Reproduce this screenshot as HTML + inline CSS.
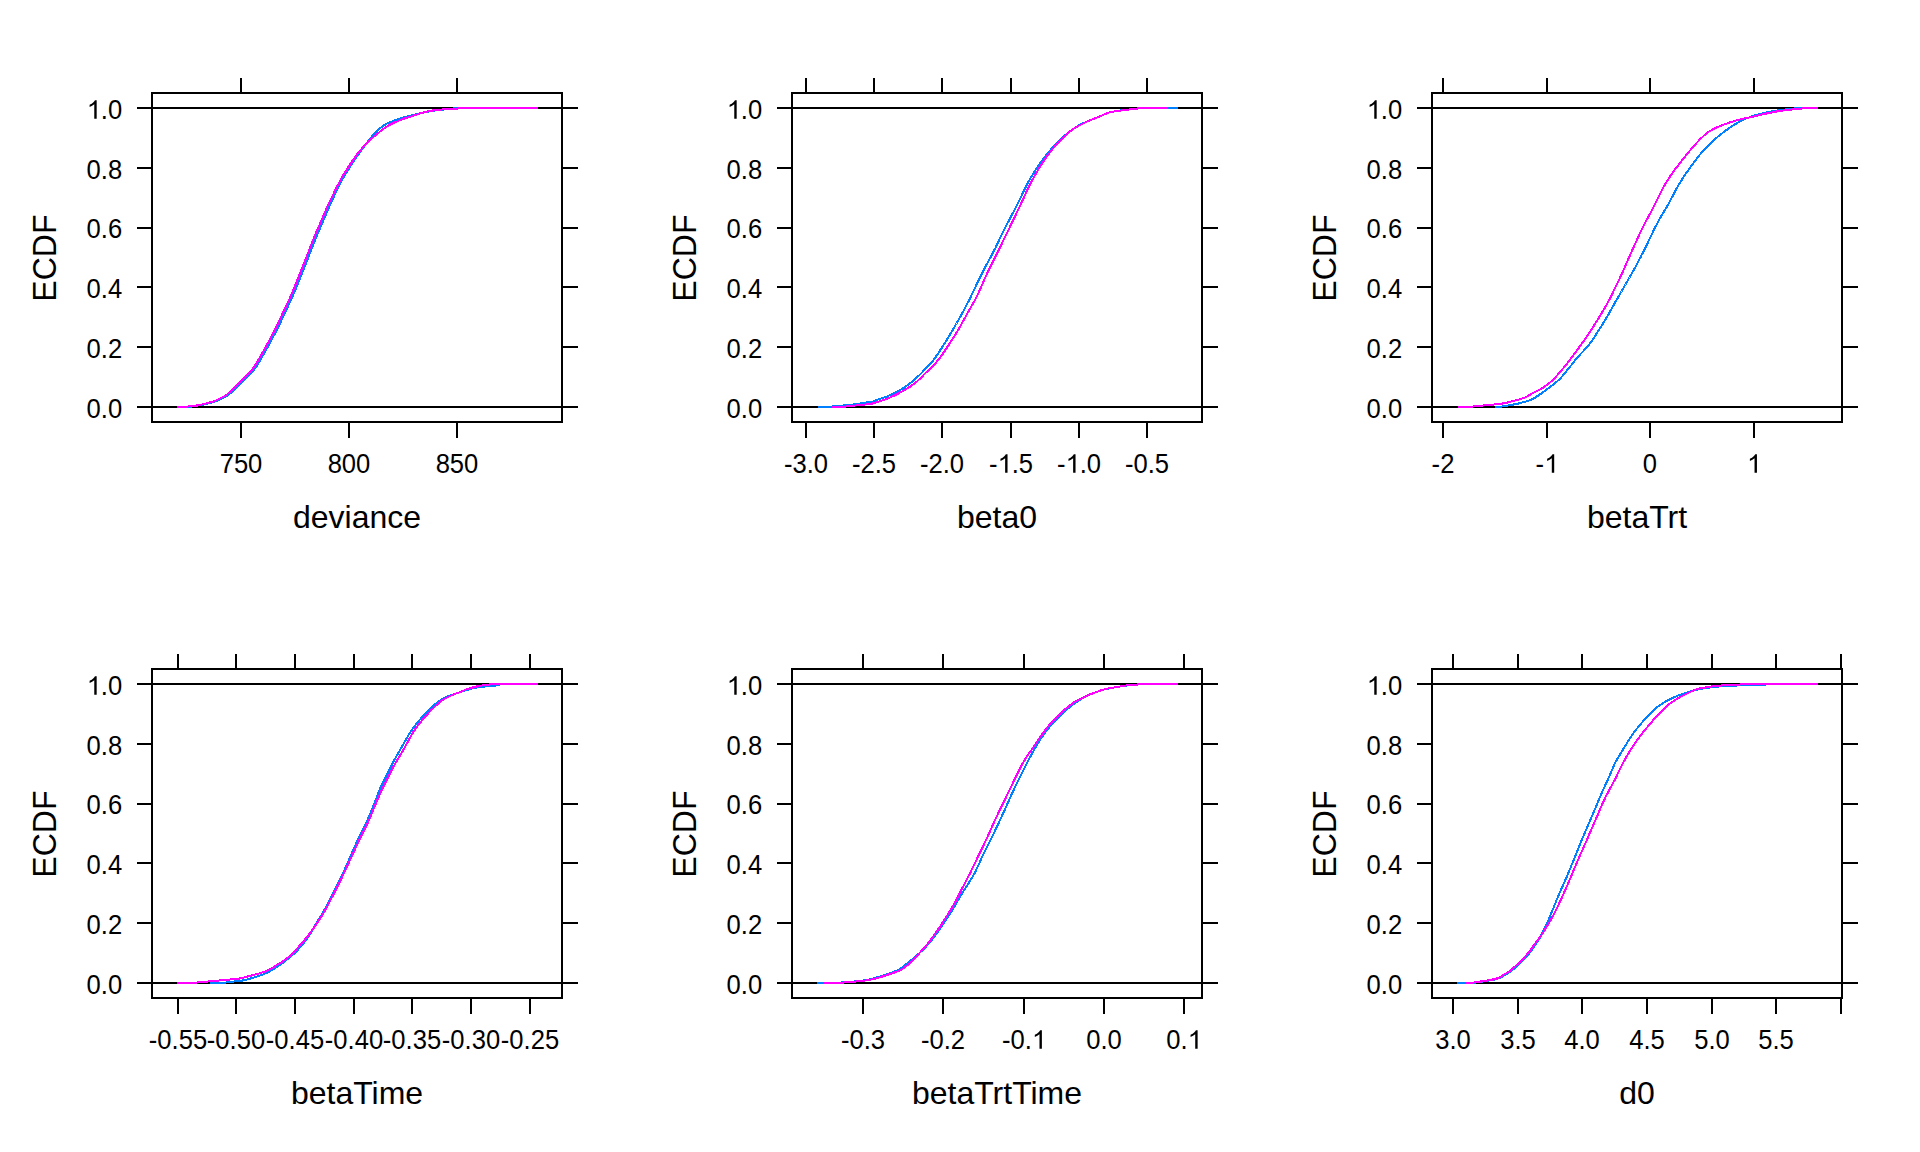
<!DOCTYPE html>
<html><head><meta charset="utf-8"><title>ECDF</title>
<style>
html,body{margin:0;padding:0;background:#fff;}
svg{display:block;}
text{font-family:"Liberation Sans",sans-serif;fill:#000;}
.t{font-size:25.6px;font-kerning:none;}
.l{font-size:32px;}
</style></head><body>
<svg width="1920" height="1152" viewBox="0 0 1920 1152">
<rect x="0" y="0" width="1920" height="1152" fill="#fff"/>
<g>
<path d="M152,93H562V422H152ZM137,108H152M562,108H578M137,168H152M562,168H578M137,228H152M562,228H578M137,287H152M562,287H578M137,347H152M562,347H578M137,407H152M562,407H578M241,422V438M241,93V78M349,422V438M349,93V78M457,422V438M457,93V78M152,108H562M152,407H562" fill="none" stroke="#000" stroke-width="2" shape-rendering="crispEdges"/>
<path d="M177.0,407.0 L178.0,407.0 L179.0,407.0 L180.0,407.0 L181.0,407.0 L182.0,407.0 L183.0,407.0 L184.0,407.0 L185.0,407.0 L186.0,407.0 L187.0,407.0 L188.0,407.0 L189.0,406.9 L190.0,406.8 L191.0,406.6 L192.0,406.4 L193.0,406.2 L194.0,406.0 L195.0,405.9 L196.0,405.7 L197.0,405.6 L198.0,405.5 L199.0,405.4 L200.0,405.3 L201.0,405.2 L202.0,405.0 L203.0,404.8 L204.0,404.5 L205.0,404.3 L206.0,404.0 L207.0,403.8 L208.0,403.5 L209.0,403.3 L210.0,403.0 L211.0,402.7 L212.0,402.4 L213.0,402.2 L214.0,401.8 L215.0,401.5 L216.0,401.2 L217.0,400.8 L218.0,400.4 L219.0,399.9 L220.0,399.5 L221.0,399.0 L222.0,398.5 L223.0,398.0 L224.0,397.5 L225.0,397.0 L226.0,396.5 L227.0,396.0 L228.0,395.3 L229.0,394.4 L230.0,393.6 L231.0,392.7 L232.0,391.7 L233.0,390.7 L234.0,389.7 L235.0,388.7 L236.0,387.7 L237.0,386.7 L238.0,385.7 L239.0,384.8 L240.0,383.8 L241.0,382.7 L242.0,381.7 L243.0,380.7 L244.0,379.8 L245.0,378.8 L246.0,377.8 L247.0,376.8 L248.0,375.9 L249.0,374.9 L250.0,373.9 L251.0,372.9 L252.0,371.9 L253.0,370.8 L254.0,369.6 L255.0,368.4 L256.0,367.0 L257.0,365.5 L258.0,364.0 L259.0,362.4 L260.0,360.6 L261.0,358.8 L262.0,357.0 L263.0,355.3 L264.0,353.5 L265.0,351.7 L266.0,349.9 L267.0,348.1 L268.0,346.4 L269.0,344.5 L270.0,342.7 L271.0,340.9 L272.0,339.0 L273.0,337.2 L274.0,335.3 L275.0,333.3 L276.0,331.4 L277.0,329.4 L278.0,327.4 L279.0,325.4 L280.0,323.4 L281.0,321.2 L282.0,319.1 L283.0,316.9 L284.0,314.7 L285.0,312.6 L286.0,310.5 L287.0,308.4 L288.0,306.3 L289.0,304.2 L290.0,302.1 L291.0,300.0 L292.0,297.8 L293.0,295.5 L294.0,293.1 L295.0,290.7 L296.0,288.2 L297.0,285.7 L298.0,283.1 L299.0,280.6 L300.0,278.1 L301.0,275.6 L302.0,273.1 L303.0,270.6 L304.0,268.1 L305.0,265.6 L306.0,263.1 L307.0,260.6 L308.0,258.1 L309.0,255.6 L310.0,253.0 L311.0,250.5 L312.0,247.8 L313.0,245.3 L314.0,242.6 L315.0,240.1 L316.0,237.6 L317.0,235.1 L318.0,232.8 L319.0,230.5 L320.0,228.2 L321.0,225.9 L322.0,223.6 L323.0,221.3 L324.0,219.0 L325.0,216.6 L326.0,214.3 L327.0,212.0 L328.0,209.7 L329.0,207.4 L330.0,205.1 L331.0,202.9 L332.0,200.7 L333.0,198.5 L334.0,196.3 L335.0,194.1 L336.0,192.0 L337.0,189.8 L338.0,187.8 L339.0,185.8 L340.0,183.8 L341.0,182.0 L342.0,180.1 L343.0,178.3 L344.0,176.6 L345.0,174.9 L346.0,173.3 L347.0,171.7 L348.0,170.1 L349.0,168.5 L350.0,166.9 L351.0,165.3 L352.0,163.8 L353.0,162.2 L354.0,160.7 L355.0,159.3 L356.0,157.8 L357.0,156.3 L358.0,154.9 L359.0,153.5 L360.0,152.1 L361.0,150.7 L362.0,149.4 L363.0,148.0 L364.0,146.7 L365.0,145.4 L366.0,144.0 L367.0,142.7 L368.0,141.4 L369.0,140.1 L370.0,138.8 L371.0,137.6 L372.0,136.4 L373.0,135.2 L374.0,134.1 L375.0,132.9 L376.0,131.9 L377.0,130.9 L378.0,129.9 L379.0,129.1 L380.0,128.2 L381.0,127.4 L382.0,126.7 L383.0,126.0 L384.0,125.3 L385.0,124.7 L386.0,124.2 L387.0,123.6 L388.0,123.1 L389.0,122.7 L390.0,122.2 L391.0,121.8 L392.0,121.4 L393.0,121.0 L394.0,120.6 L395.0,120.2 L396.0,119.8 L397.0,119.5 L398.0,119.2 L399.0,118.8 L400.0,118.5 L401.0,118.2 L402.0,117.9 L403.0,117.6 L404.0,117.3 L405.0,117.0 L406.0,116.8 L407.0,116.5 L408.0,116.2 L409.0,116.0 L410.0,115.8 L411.0,115.5 L412.0,115.3 L413.0,115.0 L414.0,114.8 L415.0,114.5 L416.0,114.3 L417.0,114.0 L418.0,113.8 L419.0,113.5 L420.0,113.3 L421.0,113.0 L422.0,112.8 L423.0,112.6 L424.0,112.3 L425.0,112.1 L426.0,112.0 L427.0,111.8 L428.0,111.6 L429.0,111.4 L430.0,111.2 L431.0,111.1 L432.0,110.9 L433.0,110.8 L434.0,110.6 L435.0,110.5 L436.0,110.3 L437.0,110.2 L438.0,110.1 L439.0,110.0 L440.0,109.9 L441.0,109.8 L442.0,109.7 L443.0,109.6 L444.0,109.5 L445.0,109.4 L446.0,109.3 L447.0,109.2 L448.0,109.1 L449.0,109.0 L450.0,108.9 L451.0,108.8 L452.0,108.7 L453.0,108.6 L454.0,108.4 L455.0,108.3 L456.0,108.2 L457.0,108.1 L457.5,108.0" fill="none" stroke="#0080ff" stroke-width="2" stroke-linejoin="round" shape-rendering="crispEdges"/>
<path d="M177.0,407.0 L178.0,407.0 L179.0,407.0 L180.0,407.0 L181.0,407.0 L182.0,407.0 L183.0,407.0 L184.0,407.0 L185.0,406.9 L186.0,406.8 L187.0,406.7 L188.0,406.5 L189.0,406.4 L190.0,406.3 L191.0,406.1 L192.0,406.0 L193.0,405.9 L194.0,405.8 L195.0,405.7 L196.0,405.6 L197.0,405.4 L198.0,405.3 L199.0,405.2 L200.0,405.0 L201.0,404.8 L202.0,404.5 L203.0,404.3 L204.0,404.0 L205.0,403.8 L206.0,403.5 L207.0,403.3 L208.0,403.0 L209.0,402.7 L210.0,402.4 L211.0,402.2 L212.0,401.8 L213.0,401.5 L214.0,401.2 L215.0,400.8 L216.0,400.4 L217.0,399.9 L218.0,399.5 L219.0,399.0 L220.0,398.5 L221.0,398.0 L222.0,397.5 L223.0,397.0 L224.0,396.5 L225.0,396.0 L226.0,395.3 L227.0,394.4 L228.0,393.6 L229.0,392.7 L230.0,391.7 L231.0,390.7 L232.0,389.7 L233.0,388.7 L234.0,387.7 L235.0,386.7 L236.0,385.7 L237.0,384.8 L238.0,383.8 L239.0,382.7 L240.0,381.7 L241.0,380.7 L242.0,379.8 L243.0,378.8 L244.0,377.8 L245.0,376.8 L246.0,375.9 L247.0,374.9 L248.0,373.9 L249.0,372.9 L250.0,371.9 L251.0,370.8 L252.0,369.6 L253.0,368.4 L254.0,367.0 L255.0,365.5 L256.0,364.0 L257.0,362.4 L258.0,360.6 L259.0,358.8 L260.0,357.0 L261.0,355.3 L262.0,353.5 L263.0,351.7 L264.0,349.9 L265.0,348.1 L266.0,346.4 L267.0,344.5 L268.0,342.7 L269.0,340.9 L270.0,339.0 L271.0,337.2 L272.0,335.3 L273.0,333.3 L274.0,331.4 L275.0,329.4 L276.0,327.4 L277.0,325.4 L278.0,323.4 L279.0,321.2 L280.0,319.1 L281.0,316.9 L282.0,314.7 L283.0,312.6 L284.0,310.5 L285.0,308.4 L286.0,306.3 L287.0,304.2 L288.0,302.1 L289.0,300.0 L290.0,297.8 L291.0,295.5 L292.0,293.1 L293.0,290.7 L294.0,288.2 L295.0,285.7 L296.0,283.1 L297.0,280.6 L298.0,278.1 L299.0,275.6 L300.0,273.1 L301.0,270.6 L302.0,268.1 L303.0,265.6 L304.0,263.1 L305.0,260.6 L306.0,258.1 L307.0,255.6 L308.0,253.0 L309.0,250.5 L310.0,247.8 L311.0,245.3 L312.0,242.6 L313.0,240.1 L314.0,237.6 L315.0,235.1 L316.0,232.8 L317.0,230.5 L318.0,228.2 L319.0,225.9 L320.0,223.6 L321.0,221.3 L322.0,219.0 L323.0,216.6 L324.0,214.3 L325.0,212.0 L326.0,209.7 L327.0,207.4 L328.0,205.2 L329.0,203.1 L330.0,201.0 L331.0,198.9 L332.0,196.9 L333.0,194.8 L334.0,192.8 L335.0,190.7 L336.0,188.7 L337.0,186.7 L338.0,184.8 L339.0,182.8 L340.0,180.9 L341.0,179.0 L342.0,177.3 L343.0,175.6 L344.0,173.9 L345.0,172.3 L346.0,170.7 L347.0,169.1 L348.0,167.6 L349.0,166.0 L350.0,164.5 L351.0,163.0 L352.0,161.5 L353.0,160.1 L354.0,158.6 L355.0,157.2 L356.0,155.8 L357.0,154.4 L358.0,153.1 L359.0,151.9 L360.0,150.7 L361.0,149.5 L362.0,148.3 L363.0,147.2 L364.0,146.1 L365.0,145.0 L366.0,144.0 L367.0,143.0 L368.0,142.0 L369.0,141.1 L370.0,140.1 L371.0,139.2 L372.0,138.3 L373.0,137.4 L374.0,136.6 L375.0,135.7 L376.0,134.8 L377.0,134.0 L378.0,133.2 L379.0,132.4 L380.0,131.6 L381.0,130.8 L382.0,130.1 L383.0,129.3 L384.0,128.6 L385.0,127.9 L386.0,127.2 L387.0,126.5 L388.0,125.9 L389.0,125.3 L390.0,124.7 L391.0,124.2 L392.0,123.7 L393.0,123.2 L394.0,122.7 L395.0,122.3 L396.0,121.8 L397.0,121.4 L398.0,121.0 L399.0,120.6 L400.0,120.2 L401.0,119.8 L402.0,119.4 L403.0,119.1 L404.0,118.7 L405.0,118.4 L406.0,118.1 L407.0,117.7 L408.0,117.4 L409.0,117.1 L410.0,116.8 L411.0,116.4 L412.0,116.1 L413.0,115.8 L414.0,115.4 L415.0,115.1 L416.0,114.8 L417.0,114.4 L418.0,114.1 L419.0,113.8 L420.0,113.5 L421.0,113.2 L422.0,112.9 L423.0,112.6 L424.0,112.4 L425.0,112.1 L426.0,111.8 L427.0,111.6 L428.0,111.4 L429.0,111.1 L430.0,110.9 L431.0,110.7 L432.0,110.6 L433.0,110.4 L434.0,110.3 L435.0,110.1 L436.0,110.0 L437.0,109.9 L438.0,109.8 L439.0,109.7 L440.0,109.6 L441.0,109.5 L442.0,109.5 L443.0,109.4 L444.0,109.4 L445.0,109.3 L446.0,109.3 L447.0,109.3 L448.0,109.3 L449.0,109.3 L450.0,109.2 L451.0,109.2 L452.0,109.2 L453.0,109.1 L454.0,109.1 L455.0,109.0 L456.0,108.9 L457.0,108.8 L458.0,108.0 L459.0,108.0 L460.0,108.0 L461.0,108.0 L462.0,108.0 L463.0,108.0 L464.0,108.0 L465.0,108.0 L466.0,108.0 L467.0,108.0 L468.0,108.0 L469.0,108.0 L470.0,108.0 L471.0,108.0 L472.0,108.0 L473.0,108.0 L474.0,108.0 L475.0,108.0 L476.0,108.0 L477.0,108.0 L478.0,108.0 L479.0,108.0 L480.0,108.0 L481.0,108.0 L482.0,108.0 L483.0,108.0 L484.0,108.0 L485.0,108.0 L486.0,108.0 L487.0,108.0 L488.0,108.0 L489.0,108.0 L490.0,108.0 L491.0,108.0 L492.0,108.0 L493.0,108.0 L494.0,108.0 L495.0,108.0 L496.0,108.0 L497.0,108.0 L498.0,108.0 L499.0,108.0 L500.0,108.0 L501.0,108.0 L502.0,108.0 L503.0,108.0 L504.0,108.0 L505.0,108.0 L506.0,108.0 L507.0,108.0 L508.0,108.0 L509.0,108.0 L510.0,108.0 L511.0,108.0 L512.0,108.0 L513.0,108.0 L514.0,108.0 L515.0,108.0 L516.0,108.0 L517.0,108.0 L518.0,108.0 L519.0,108.0 L520.0,108.0 L521.0,108.0 L522.0,108.0 L523.0,108.0 L524.0,108.0 L525.0,108.0 L526.0,108.0 L527.0,108.0 L528.0,108.0 L529.0,108.0 L530.0,108.0 L531.0,108.0 L532.0,108.0 L533.0,108.0 L534.0,108.0 L535.0,108.0 L536.0,108.0 L537.0,108.0 L538.0,108.0" fill="none" stroke="#ff00ff" stroke-width="2" stroke-linejoin="round" shape-rendering="crispEdges"/>
<text class="t" transform="translate(0,118.70) scale(1,1.05)" x="86.61 100.85 107.96" y="0">&#x2007;.0</text>
<path d="M805,0L613,0L613,1102Q450,985 240,894L240,1061Q420,1140 545,1260Q625,1340 670,1409L805,1409Z" transform="translate(86.61,118.70) scale(0.012500,-0.013125)" fill="#000"/>
<text class="t" transform="translate(0,178.50) scale(1,1.05)" x="86.61 100.85 107.96" y="0">0.8</text>
<text class="t" transform="translate(0,238.30) scale(1,1.05)" x="86.61 100.85 107.96" y="0">0.6</text>
<text class="t" transform="translate(0,298.10) scale(1,1.05)" x="86.61 100.85 107.96" y="0">0.4</text>
<text class="t" transform="translate(0,357.90) scale(1,1.05)" x="86.61 100.85 107.96" y="0">0.2</text>
<text class="t" transform="translate(0,417.70) scale(1,1.05)" x="86.61 100.85 107.96" y="0">0.0</text>
<text class="t" transform="translate(0,472.80) scale(1,1.05)" x="219.64 233.88 248.12" y="0">750</text>
<text class="t" transform="translate(0,472.80) scale(1,1.05)" x="327.64 341.88 356.12" y="0">800</text>
<text class="t" transform="translate(0,472.80) scale(1,1.05)" x="435.64 449.88 464.12" y="0">850</text>
<text class="l" x="357.0" y="527.8" text-anchor="middle">deviance</text>
<text class="l" transform="translate(56,258.1) rotate(-90) scale(1,1.04)" x="0" y="0" text-anchor="middle">ECDF</text>
</g>
<g>
<path d="M792,93H1202V422H792ZM777,108H792M1202,108H1218M777,168H792M1202,168H1218M777,228H792M1202,228H1218M777,287H792M1202,287H1218M777,347H792M1202,347H1218M777,407H792M1202,407H1218M806,422V438M806,93V78M874,422V438M874,93V78M942,422V438M942,93V78M1011,422V438M1011,93V78M1079,422V438M1079,93V78M1147,422V438M1147,93V78M792,108H1202M792,407H1202" fill="none" stroke="#000" stroke-width="2" shape-rendering="crispEdges"/>
<path d="M817.5,407.0 L818.5,407.0 L819.5,407.0 L820.5,407.0 L821.5,407.0 L822.5,407.0 L823.5,407.0 L824.5,407.0 L825.5,407.0 L826.5,406.9 L827.5,406.9 L828.5,406.8 L829.5,406.7 L830.5,406.7 L831.5,406.6 L832.5,406.5 L833.5,406.4 L834.5,406.3 L835.5,406.2 L836.5,406.1 L837.5,406.0 L838.5,405.9 L839.5,405.8 L840.5,405.8 L841.5,405.7 L842.5,405.6 L843.5,405.5 L844.5,405.4 L845.5,405.3 L846.5,405.2 L847.5,405.1 L848.5,405.0 L849.5,404.9 L850.5,404.8 L851.5,404.7 L852.5,404.6 L853.5,404.5 L854.5,404.4 L855.5,404.2 L856.5,404.1 L857.5,404.0 L858.5,403.8 L859.5,403.7 L860.5,403.5 L861.5,403.3 L862.5,403.2 L863.5,403.0 L864.5,402.8 L865.5,402.6 L866.5,402.3 L867.5,402.1 L868.5,402.0 L869.5,401.9 L870.5,401.9 L871.5,401.8 L872.5,401.7 L873.5,401.4 L874.5,400.9 L875.5,400.4 L876.5,400.0 L877.5,399.7 L878.5,399.3 L879.5,399.0 L880.5,398.7 L881.5,398.4 L882.5,398.1 L883.5,397.7 L884.5,397.4 L885.5,397.0 L886.5,396.6 L887.5,396.2 L888.5,395.8 L889.5,395.4 L890.5,395.0 L891.5,394.5 L892.5,394.0 L893.5,393.6 L894.5,393.1 L895.5,392.6 L896.5,392.0 L897.5,391.5 L898.5,391.0 L899.5,390.4 L900.5,389.8 L901.5,389.2 L902.5,388.6 L903.5,388.0 L904.5,387.3 L905.5,386.6 L906.5,385.9 L907.5,385.2 L908.5,384.5 L909.5,383.7 L910.5,382.9 L911.5,382.1 L912.5,381.2 L913.5,380.4 L914.5,379.5 L915.5,378.7 L916.5,377.8 L917.5,376.9 L918.5,375.9 L919.5,375.0 L920.5,374.0 L921.5,373.0 L922.5,372.0 L923.5,370.9 L924.5,369.8 L925.5,368.8 L926.5,367.7 L927.5,366.7 L928.5,365.7 L929.5,364.6 L930.5,363.5 L931.5,362.4 L932.5,361.2 L933.5,360.0 L934.5,358.7 L935.5,357.3 L936.5,355.8 L937.5,354.3 L938.5,352.9 L939.5,351.4 L940.5,349.8 L941.5,348.3 L942.5,346.7 L943.5,345.1 L944.5,343.6 L945.5,341.9 L946.5,340.3 L947.5,338.7 L948.5,337.0 L949.5,335.4 L950.5,333.7 L951.5,332.0 L952.5,330.3 L953.5,328.6 L954.5,326.9 L955.5,325.2 L956.5,323.5 L957.5,321.7 L958.5,320.0 L959.5,318.2 L960.5,316.4 L961.5,314.5 L962.5,312.7 L963.5,310.8 L964.5,309.0 L965.5,307.1 L966.5,305.2 L967.5,303.2 L968.5,301.3 L969.5,299.3 L970.5,297.3 L971.5,295.3 L972.5,293.2 L973.5,291.1 L974.5,289.0 L975.5,286.8 L976.5,284.7 L977.5,282.5 L978.5,280.4 L979.5,278.4 L980.5,276.3 L981.5,274.4 L982.5,272.4 L983.5,270.4 L984.5,268.5 L985.5,266.6 L986.5,264.7 L987.5,262.9 L988.5,261.0 L989.5,259.2 L990.5,257.3 L991.5,255.5 L992.5,253.6 L993.5,251.7 L994.5,249.7 L995.5,247.8 L996.5,245.7 L997.5,243.6 L998.5,241.4 L999.5,239.2 L1000.5,237.1 L1001.5,235.0 L1002.5,232.9 L1003.5,230.9 L1004.5,228.9 L1005.5,227.0 L1006.5,225.1 L1007.5,223.2 L1008.5,221.3 L1009.5,219.4 L1010.5,217.5 L1011.5,215.6 L1012.5,213.7 L1013.5,211.8 L1014.5,209.9 L1015.5,208.0 L1016.5,206.1 L1017.5,204.1 L1018.5,202.1 L1019.5,200.0 L1020.5,198.0 L1021.5,195.8 L1022.5,193.7 L1023.5,191.5 L1024.5,189.3 L1025.5,187.3 L1026.5,185.3 L1027.5,183.4 L1028.5,181.6 L1029.5,179.9 L1030.5,178.2 L1031.5,176.5 L1032.5,174.9 L1033.5,173.3 L1034.5,171.8 L1035.5,170.2 L1036.5,168.7 L1037.5,167.2 L1038.5,165.7 L1039.5,164.2 L1040.5,162.8 L1041.5,161.4 L1042.5,160.0 L1043.5,158.6 L1044.5,157.3 L1045.5,156.0 L1046.5,154.7 L1047.5,153.5 L1048.5,152.3 L1049.5,151.1 L1050.5,150.0 L1051.5,148.8 L1052.5,147.7 L1053.5,146.6 L1054.5,145.6 L1055.5,144.5 L1056.5,143.5 L1057.5,142.4 L1058.5,141.4 L1059.5,140.4 L1060.5,139.5 L1061.5,138.5 L1062.5,137.6 L1063.5,136.7 L1064.5,135.8 L1065.5,134.9 L1066.5,134.1 L1067.5,133.2 L1068.5,132.4 L1069.5,131.6 L1070.5,130.8 L1071.5,130.1 L1072.5,129.4 L1073.5,128.7 L1074.5,128.1 L1075.5,127.4 L1076.5,126.8 L1077.5,126.2 L1078.5,125.6 L1079.5,125.1 L1080.5,124.6 L1081.5,124.1 L1082.5,123.6 L1083.5,123.1 L1084.5,122.6 L1085.5,122.2 L1086.5,121.7 L1087.5,121.3 L1088.5,120.9 L1089.5,120.5 L1090.5,120.0 L1091.5,119.6 L1092.5,119.2 L1093.5,118.8 L1094.5,118.5 L1095.5,118.1 L1096.5,117.7 L1097.5,117.3 L1098.5,116.9 L1099.5,116.5 L1100.5,116.1 L1101.5,115.7 L1102.5,115.2 L1103.5,114.8 L1104.5,114.3 L1105.5,113.9 L1106.5,113.5 L1107.5,113.1 L1108.5,112.7 L1109.5,112.4 L1110.5,112.2 L1111.5,112.0 L1112.5,111.8 L1113.5,111.6 L1114.5,111.4 L1115.5,111.2 L1116.5,111.1 L1117.5,110.9 L1118.5,110.8 L1119.5,110.6 L1120.5,110.5 L1121.5,110.4 L1122.5,110.2 L1123.5,110.1 L1124.5,110.0 L1125.5,109.9 L1126.5,109.8 L1127.5,109.7 L1128.5,109.6 L1129.5,109.5 L1130.5,109.3 L1131.5,109.2 L1132.5,109.1 L1133.5,109.0 L1134.5,108.9 L1135.5,108.7 L1136.5,108.6 L1137.5,108.5 L1138.5,108.4 L1139.5,108.3 L1140.5,108.2 L1141.5,108.1 L1142.5,108.1 L1143.5,108.0 L1144.5,108.0 L1145.5,108.0 L1146.5,108.0 L1147.5,108.0 L1148.5,108.0 L1149.5,108.0 L1150.5,108.0 L1151.5,108.0 L1152.5,108.0 L1153.5,108.0 L1154.5,108.0 L1155.5,108.0 L1156.5,108.0 L1157.5,108.0 L1158.5,108.0 L1159.5,108.0 L1160.5,108.0 L1161.5,108.0 L1162.5,108.0 L1163.5,108.0 L1164.5,108.0 L1165.5,108.0 L1166.5,108.0 L1167.5,108.0 L1168.5,108.0 L1169.5,108.0 L1170.5,108.0 L1171.5,108.0 L1172.5,108.0 L1173.5,108.0 L1174.5,108.0 L1175.5,108.0 L1176.5,108.0 L1177.5,108.0 L1178.0,108.0" fill="none" stroke="#0080ff" stroke-width="2" stroke-linejoin="round" shape-rendering="crispEdges"/>
<path d="M832.0,407.0 L833.0,407.0 L834.0,407.0 L835.0,407.0 L836.0,407.0 L837.0,407.0 L838.0,407.0 L839.0,407.0 L840.0,407.0 L841.0,407.0 L842.0,406.9 L843.0,406.8 L844.0,406.7 L845.0,406.6 L846.0,406.5 L847.0,406.4 L848.0,406.3 L849.0,406.2 L850.0,406.1 L851.0,405.9 L852.0,405.8 L853.0,405.7 L854.0,405.6 L855.0,405.5 L856.0,405.4 L857.0,405.3 L858.0,405.2 L859.0,405.1 L860.0,404.9 L861.0,404.8 L862.0,404.8 L863.0,404.7 L864.0,404.6 L865.0,404.5 L866.0,404.4 L867.0,404.3 L868.0,404.2 L869.0,404.1 L870.0,403.9 L871.0,403.8 L872.0,403.6 L873.0,403.4 L874.0,403.1 L875.0,402.8 L876.0,402.5 L877.0,402.1 L878.0,401.9 L879.0,401.6 L880.0,401.3 L881.0,401.0 L882.0,400.6 L883.0,400.3 L884.0,399.8 L885.0,399.4 L886.0,399.1 L887.0,398.7 L888.0,398.3 L889.0,397.9 L890.0,397.5 L891.0,397.0 L892.0,396.6 L893.0,396.1 L894.0,395.7 L895.0,395.2 L896.0,394.7 L897.0,394.2 L898.0,393.7 L899.0,393.1 L900.0,392.6 L901.0,392.0 L902.0,391.5 L903.0,390.9 L904.0,390.3 L905.0,389.8 L906.0,389.2 L907.0,388.6 L908.0,388.0 L909.0,387.3 L910.0,386.7 L911.0,386.0 L912.0,385.3 L913.0,384.6 L914.0,383.9 L915.0,383.1 L916.0,382.3 L917.0,381.5 L918.0,380.5 L919.0,379.6 L920.0,378.6 L921.0,377.6 L922.0,376.6 L923.0,375.6 L924.0,374.5 L925.0,373.5 L926.0,372.6 L927.0,371.6 L928.0,370.6 L929.0,369.7 L930.0,368.7 L931.0,367.7 L932.0,366.8 L933.0,365.7 L934.0,364.7 L935.0,363.7 L936.0,362.6 L937.0,361.4 L938.0,360.2 L939.0,358.9 L940.0,357.6 L941.0,356.3 L942.0,354.9 L943.0,353.5 L944.0,352.0 L945.0,350.5 L946.0,349.0 L947.0,347.5 L948.0,346.0 L949.0,344.5 L950.0,343.0 L951.0,341.4 L952.0,339.8 L953.0,338.3 L954.0,336.7 L955.0,335.1 L956.0,333.5 L957.0,331.8 L958.0,330.2 L959.0,328.4 L960.0,326.7 L961.0,324.9 L962.0,323.1 L963.0,321.3 L964.0,319.5 L965.0,317.7 L966.0,315.9 L967.0,314.1 L968.0,312.3 L969.0,310.5 L970.0,308.7 L971.0,306.9 L972.0,305.2 L973.0,303.4 L974.0,301.7 L975.0,299.9 L976.0,298.0 L977.0,296.0 L978.0,293.9 L979.0,291.8 L980.0,289.6 L981.0,287.4 L982.0,285.0 L983.0,282.6 L984.0,280.3 L985.0,278.1 L986.0,275.9 L987.0,273.8 L988.0,271.7 L989.0,269.6 L990.0,267.6 L991.0,265.6 L992.0,263.7 L993.0,261.7 L994.0,259.7 L995.0,257.7 L996.0,255.7 L997.0,253.7 L998.0,251.6 L999.0,249.6 L1000.0,247.5 L1001.0,245.4 L1002.0,243.3 L1003.0,241.2 L1004.0,239.1 L1005.0,237.0 L1006.0,235.0 L1007.0,232.9 L1008.0,230.9 L1009.0,228.8 L1010.0,226.8 L1011.0,224.7 L1012.0,222.7 L1013.0,220.6 L1014.0,218.5 L1015.0,216.4 L1016.0,214.3 L1017.0,212.2 L1018.0,210.1 L1019.0,208.0 L1020.0,205.9 L1021.0,203.7 L1022.0,201.6 L1023.0,199.4 L1024.0,197.2 L1025.0,195.0 L1026.0,192.8 L1027.0,190.6 L1028.0,188.5 L1029.0,186.4 L1030.0,184.5 L1031.0,182.5 L1032.0,180.7 L1033.0,178.8 L1034.0,177.0 L1035.0,175.2 L1036.0,173.4 L1037.0,171.7 L1038.0,170.0 L1039.0,168.3 L1040.0,166.7 L1041.0,165.1 L1042.0,163.6 L1043.0,162.0 L1044.0,160.6 L1045.0,159.1 L1046.0,157.7 L1047.0,156.4 L1048.0,155.0 L1049.0,153.7 L1050.0,152.4 L1051.0,151.1 L1052.0,149.8 L1053.0,148.5 L1054.0,147.3 L1055.0,146.2 L1056.0,145.0 L1057.0,143.9 L1058.0,142.8 L1059.0,141.7 L1060.0,140.6 L1061.0,139.6 L1062.0,138.6 L1063.0,137.6 L1064.0,136.7 L1065.0,135.8 L1066.0,134.9 L1067.0,134.0 L1068.0,133.1 L1069.0,132.3 L1070.0,131.5 L1071.0,130.7 L1072.0,130.0 L1073.0,129.3 L1074.0,128.6 L1075.0,127.9 L1076.0,127.3 L1077.0,126.7 L1078.0,126.1 L1079.0,125.5 L1080.0,124.9 L1081.0,124.4 L1082.0,123.9 L1083.0,123.4 L1084.0,122.9 L1085.0,122.5 L1086.0,122.0 L1087.0,121.6 L1088.0,121.2 L1089.0,120.7 L1090.0,120.3 L1091.0,119.9 L1092.0,119.5 L1093.0,119.1 L1094.0,118.7 L1095.0,118.3 L1096.0,117.9 L1097.0,117.5 L1098.0,117.1 L1099.0,116.7 L1100.0,116.3 L1101.0,115.9 L1102.0,115.5 L1103.0,115.0 L1104.0,114.5 L1105.0,114.1 L1106.0,113.7 L1107.0,113.3 L1108.0,112.9 L1109.0,112.6 L1110.0,112.3 L1111.0,112.1 L1112.0,111.9 L1113.0,111.7 L1114.0,111.5 L1115.0,111.3 L1116.0,111.2 L1117.0,111.0 L1118.0,110.9 L1119.0,110.7 L1120.0,110.6 L1121.0,110.5 L1122.0,110.3 L1123.0,110.2 L1124.0,110.1 L1125.0,109.9 L1126.0,109.8 L1127.0,109.7 L1128.0,109.6 L1129.0,109.5 L1130.0,109.4 L1131.0,109.3 L1132.0,109.2 L1133.0,109.1 L1134.0,108.9 L1135.0,108.8 L1136.0,108.7 L1137.0,108.6 L1138.0,108.5 L1139.0,108.4 L1140.0,108.3 L1141.0,108.2 L1142.0,108.1 L1143.0,108.1 L1144.0,108.0 L1145.0,108.0 L1146.0,108.0 L1147.0,108.0 L1148.0,108.0 L1149.0,108.0 L1150.0,108.0 L1151.0,108.0 L1152.0,108.0 L1153.0,108.0 L1154.0,108.0 L1155.0,108.0 L1156.0,108.0 L1157.0,108.0 L1158.0,108.0 L1159.0,108.0 L1160.0,108.0 L1161.0,108.0 L1162.0,108.0 L1163.0,108.0 L1164.0,108.0 L1165.0,108.0 L1166.0,108.0 L1167.0,108.0 L1168.0,108.0" fill="none" stroke="#ff00ff" stroke-width="2" stroke-linejoin="round" shape-rendering="crispEdges"/>
<text class="t" transform="translate(0,118.70) scale(1,1.05)" x="726.61 740.85 747.96" y="0">&#x2007;.0</text>
<path d="M805,0L613,0L613,1102Q450,985 240,894L240,1061Q420,1140 545,1260Q625,1340 670,1409L805,1409Z" transform="translate(726.61,118.70) scale(0.012500,-0.013125)" fill="#000"/>
<text class="t" transform="translate(0,178.50) scale(1,1.05)" x="726.61 740.85 747.96" y="0">0.8</text>
<text class="t" transform="translate(0,238.30) scale(1,1.05)" x="726.61 740.85 747.96" y="0">0.6</text>
<text class="t" transform="translate(0,298.10) scale(1,1.05)" x="726.61 740.85 747.96" y="0">0.4</text>
<text class="t" transform="translate(0,357.90) scale(1,1.05)" x="726.61 740.85 747.96" y="0">0.2</text>
<text class="t" transform="translate(0,417.70) scale(1,1.05)" x="726.61 740.85 747.96" y="0">0.0</text>
<text class="t" transform="translate(0,472.80) scale(1,1.05)" x="783.94 792.47 806.71 813.82" y="0">-3.0</text>
<text class="t" transform="translate(0,472.80) scale(1,1.05)" x="851.94 860.47 874.71 881.82" y="0">-2.5</text>
<text class="t" transform="translate(0,472.80) scale(1,1.05)" x="919.94 928.47 942.71 949.82" y="0">-2.0</text>
<text class="t" transform="translate(0,472.80) scale(1,1.05)" x="988.94 997.47 1011.71 1018.82" y="0">-&#x2007;.5</text>
<path d="M805,0L613,0L613,1102Q450,985 240,894L240,1061Q420,1140 545,1260Q625,1340 670,1409L805,1409Z" transform="translate(997.47,472.80) scale(0.012500,-0.013125)" fill="#000"/>
<text class="t" transform="translate(0,472.80) scale(1,1.05)" x="1056.94 1065.47 1079.71 1086.82" y="0">-&#x2007;.0</text>
<path d="M805,0L613,0L613,1102Q450,985 240,894L240,1061Q420,1140 545,1260Q625,1340 670,1409L805,1409Z" transform="translate(1065.47,472.80) scale(0.012500,-0.013125)" fill="#000"/>
<text class="t" transform="translate(0,472.80) scale(1,1.05)" x="1124.94 1133.47 1147.71 1154.82" y="0">-0.5</text>
<text class="l" x="997.0" y="527.8" text-anchor="middle">beta0</text>
<text class="l" transform="translate(696,258.1) rotate(-90) scale(1,1.04)" x="0" y="0" text-anchor="middle">ECDF</text>
</g>
<g>
<path d="M1432,93H1842V422H1432ZM1417,108H1432M1842,108H1858M1417,168H1432M1842,168H1858M1417,228H1432M1842,228H1858M1417,287H1432M1842,287H1858M1417,347H1432M1842,347H1858M1417,407H1432M1842,407H1858M1443,422V438M1443,93V78M1547,422V438M1547,93V78M1650,422V438M1650,93V78M1754,422V438M1754,93V78M1432,108H1842M1432,407H1842" fill="none" stroke="#000" stroke-width="2" shape-rendering="crispEdges"/>
<path d="M1494.5,407.0 L1495.5,407.0 L1496.5,407.0 L1497.5,407.0 L1498.5,407.0 L1499.5,406.9 L1500.5,406.8 L1501.5,406.6 L1502.5,406.4 L1503.5,406.3 L1504.5,406.1 L1505.5,405.9 L1506.5,405.8 L1507.5,405.6 L1508.5,405.4 L1509.5,405.3 L1510.5,405.1 L1511.5,404.9 L1512.5,404.7 L1513.5,404.5 L1514.5,404.3 L1515.5,404.1 L1516.5,403.9 L1517.5,403.7 L1518.5,403.5 L1519.5,403.2 L1520.5,403.0 L1521.5,402.7 L1522.5,402.4 L1523.5,402.1 L1524.5,401.9 L1525.5,401.6 L1526.5,401.3 L1527.5,401.0 L1528.5,400.7 L1529.5,400.4 L1530.5,400.0 L1531.5,399.6 L1532.5,399.1 L1533.5,398.6 L1534.5,398.0 L1535.5,397.3 L1536.5,396.6 L1537.5,396.0 L1538.5,395.3 L1539.5,394.7 L1540.5,394.0 L1541.5,393.3 L1542.5,392.6 L1543.5,391.9 L1544.5,391.2 L1545.5,390.5 L1546.5,389.7 L1547.5,389.0 L1548.5,388.2 L1549.5,387.5 L1550.5,386.7 L1551.5,385.9 L1552.5,385.1 L1553.5,384.3 L1554.5,383.5 L1555.5,382.7 L1556.5,381.9 L1557.5,381.0 L1558.5,380.1 L1559.5,379.1 L1560.5,378.1 L1561.5,377.1 L1562.5,375.9 L1563.5,374.7 L1564.5,373.4 L1565.5,372.2 L1566.5,370.9 L1567.5,369.6 L1568.5,368.4 L1569.5,367.3 L1570.5,366.1 L1571.5,364.9 L1572.5,363.7 L1573.5,362.4 L1574.5,361.0 L1575.5,359.8 L1576.5,358.6 L1577.5,357.4 L1578.5,356.3 L1579.5,355.2 L1580.5,354.1 L1581.5,353.0 L1582.5,352.0 L1583.5,351.0 L1584.5,349.9 L1585.5,348.8 L1586.5,347.7 L1587.5,346.5 L1588.5,345.3 L1589.5,344.0 L1590.5,342.7 L1591.5,341.4 L1592.5,340.0 L1593.5,338.5 L1594.5,337.0 L1595.5,335.4 L1596.5,333.8 L1597.5,332.1 L1598.5,330.6 L1599.5,329.0 L1600.5,327.5 L1601.5,325.9 L1602.5,324.3 L1603.5,322.7 L1604.5,321.0 L1605.5,319.4 L1606.5,317.7 L1607.5,316.0 L1608.5,314.3 L1609.5,312.5 L1610.5,310.7 L1611.5,308.8 L1612.5,307.0 L1613.5,305.3 L1614.5,303.5 L1615.5,301.8 L1616.5,300.1 L1617.5,298.3 L1618.5,296.6 L1619.5,294.9 L1620.5,293.2 L1621.5,291.5 L1622.5,289.7 L1623.5,288.0 L1624.5,286.2 L1625.5,284.5 L1626.5,282.7 L1627.5,281.0 L1628.5,279.2 L1629.5,277.5 L1630.5,275.7 L1631.5,274.0 L1632.5,272.2 L1633.5,270.5 L1634.5,268.6 L1635.5,266.8 L1636.5,264.9 L1637.5,263.1 L1638.5,261.1 L1639.5,259.2 L1640.5,257.3 L1641.5,255.3 L1642.5,253.4 L1643.5,251.4 L1644.5,249.5 L1645.5,247.6 L1646.5,245.5 L1647.5,243.5 L1648.5,241.3 L1649.5,239.2 L1650.5,237.1 L1651.5,235.0 L1652.5,232.8 L1653.5,230.7 L1654.5,228.7 L1655.5,226.7 L1656.5,224.8 L1657.5,222.9 L1658.5,221.0 L1659.5,219.2 L1660.5,217.5 L1661.5,215.8 L1662.5,214.0 L1663.5,212.3 L1664.5,210.6 L1665.5,209.0 L1666.5,207.3 L1667.5,205.6 L1668.5,203.8 L1669.5,202.0 L1670.5,200.1 L1671.5,198.2 L1672.5,196.3 L1673.5,194.4 L1674.5,192.5 L1675.5,190.5 L1676.5,188.7 L1677.5,186.9 L1678.5,185.2 L1679.5,183.5 L1680.5,181.9 L1681.5,180.3 L1682.5,178.7 L1683.5,177.2 L1684.5,175.7 L1685.5,174.2 L1686.5,172.7 L1687.5,171.3 L1688.5,169.9 L1689.5,168.4 L1690.5,167.1 L1691.5,165.7 L1692.5,164.3 L1693.5,163.0 L1694.5,161.6 L1695.5,160.3 L1696.5,159.0 L1697.5,157.7 L1698.5,156.4 L1699.5,155.1 L1700.5,153.9 L1701.5,152.7 L1702.5,151.6 L1703.5,150.4 L1704.5,149.3 L1705.5,148.2 L1706.5,147.1 L1707.5,146.1 L1708.5,145.1 L1709.5,144.1 L1710.5,143.2 L1711.5,142.2 L1712.5,141.3 L1713.5,140.4 L1714.5,139.5 L1715.5,138.7 L1716.5,137.8 L1717.5,137.0 L1718.5,136.2 L1719.5,135.3 L1720.5,134.5 L1721.5,133.8 L1722.5,133.0 L1723.5,132.2 L1724.5,131.5 L1725.5,130.7 L1726.5,130.0 L1727.5,129.3 L1728.5,128.6 L1729.5,127.9 L1730.5,127.2 L1731.5,126.5 L1732.5,125.9 L1733.5,125.2 L1734.5,124.6 L1735.5,124.0 L1736.5,123.4 L1737.5,122.8 L1738.5,122.2 L1739.5,121.7 L1740.5,121.2 L1741.5,120.7 L1742.5,120.2 L1743.5,119.7 L1744.5,119.2 L1745.5,118.8 L1746.5,118.4 L1747.5,117.9 L1748.5,117.6 L1749.5,117.2 L1750.5,116.8 L1751.5,116.5 L1752.5,116.1 L1753.5,115.8 L1754.5,115.5 L1755.5,115.2 L1756.5,114.9 L1757.5,114.7 L1758.5,114.4 L1759.5,114.1 L1760.5,113.9 L1761.5,113.6 L1762.5,113.4 L1763.5,113.1 L1764.5,112.8 L1765.5,112.6 L1766.5,112.4 L1767.5,112.1 L1768.5,111.9 L1769.5,111.7 L1770.5,111.6 L1771.5,111.4 L1772.5,111.2 L1773.5,111.1 L1774.5,110.9 L1775.5,110.8 L1776.5,110.7 L1777.5,110.5 L1778.5,110.4 L1779.5,110.3 L1780.5,110.1 L1781.5,110.0 L1782.5,109.9 L1783.5,109.8 L1784.5,109.6 L1785.5,109.5 L1786.5,109.4 L1787.5,109.3 L1788.5,109.1 L1789.5,109.0 L1790.5,108.9 L1791.5,108.8 L1792.5,108.7 L1793.5,108.6 L1794.5,108.5 L1795.5,108.3 L1796.5,108.2 L1797.5,108.1 L1798.5,108.1 L1799.5,108.0 L1800.5,108.0 L1801.5,108.0 L1802.5,108.0 L1803.5,108.0 L1804.5,108.0 L1805.5,108.0 L1805.8,108.0" fill="none" stroke="#0080ff" stroke-width="2" stroke-linejoin="round" shape-rendering="crispEdges"/>
<path d="M1457.5,407.0 L1458.5,407.0 L1459.5,407.0 L1460.5,407.0 L1461.5,407.0 L1462.5,407.0 L1463.5,407.0 L1464.5,407.0 L1465.5,407.0 L1466.5,407.0 L1467.5,407.0 L1468.5,406.9 L1469.5,406.9 L1470.5,406.8 L1471.5,406.7 L1472.5,406.6 L1473.5,406.5 L1474.5,406.4 L1475.5,406.3 L1476.5,406.2 L1477.5,406.1 L1478.5,406.0 L1479.5,405.9 L1480.5,405.8 L1481.5,405.7 L1482.5,405.6 L1483.5,405.5 L1484.5,405.4 L1485.5,405.3 L1486.5,405.2 L1487.5,405.1 L1488.5,405.0 L1489.5,405.0 L1490.5,404.9 L1491.5,404.8 L1492.5,404.7 L1493.5,404.6 L1494.5,404.5 L1495.5,404.4 L1496.5,404.3 L1497.5,404.2 L1498.5,404.1 L1499.5,403.9 L1500.5,403.8 L1501.5,403.7 L1502.5,403.5 L1503.5,403.4 L1504.5,403.2 L1505.5,403.0 L1506.5,402.8 L1507.5,402.5 L1508.5,402.3 L1509.5,402.0 L1510.5,401.7 L1511.5,401.4 L1512.5,401.1 L1513.5,400.9 L1514.5,400.6 L1515.5,400.4 L1516.5,400.1 L1517.5,399.8 L1518.5,399.6 L1519.5,399.3 L1520.5,399.0 L1521.5,398.6 L1522.5,398.3 L1523.5,398.0 L1524.5,397.6 L1525.5,397.2 L1526.5,396.7 L1527.5,396.2 L1528.5,395.6 L1529.5,395.0 L1530.5,394.4 L1531.5,393.9 L1532.5,393.3 L1533.5,392.8 L1534.5,392.3 L1535.5,391.8 L1536.5,391.3 L1537.5,390.8 L1538.5,390.3 L1539.5,389.8 L1540.5,389.2 L1541.5,388.6 L1542.5,388.0 L1543.5,387.3 L1544.5,386.6 L1545.5,385.9 L1546.5,385.2 L1547.5,384.4 L1548.5,383.6 L1549.5,382.8 L1550.5,382.0 L1551.5,381.1 L1552.5,380.2 L1553.5,379.3 L1554.5,378.3 L1555.5,377.2 L1556.5,376.1 L1557.5,375.0 L1558.5,373.8 L1559.5,372.7 L1560.5,371.5 L1561.5,370.3 L1562.5,369.1 L1563.5,367.9 L1564.5,366.7 L1565.5,365.5 L1566.5,364.3 L1567.5,363.0 L1568.5,361.7 L1569.5,360.4 L1570.5,359.1 L1571.5,357.7 L1572.5,356.4 L1573.5,355.0 L1574.5,353.7 L1575.5,352.3 L1576.5,351.0 L1577.5,349.6 L1578.5,348.2 L1579.5,346.8 L1580.5,345.5 L1581.5,344.1 L1582.5,342.7 L1583.5,341.4 L1584.5,340.0 L1585.5,338.5 L1586.5,337.1 L1587.5,335.7 L1588.5,334.2 L1589.5,332.7 L1590.5,331.2 L1591.5,329.6 L1592.5,328.0 L1593.5,326.4 L1594.5,324.8 L1595.5,323.2 L1596.5,321.5 L1597.5,319.9 L1598.5,318.3 L1599.5,316.6 L1600.5,315.0 L1601.5,313.4 L1602.5,311.7 L1603.5,310.1 L1604.5,308.4 L1605.5,306.7 L1606.5,304.9 L1607.5,303.1 L1608.5,301.2 L1609.5,299.3 L1610.5,297.3 L1611.5,295.3 L1612.5,293.3 L1613.5,291.3 L1614.5,289.2 L1615.5,287.1 L1616.5,285.1 L1617.5,283.0 L1618.5,280.9 L1619.5,278.8 L1620.5,276.7 L1621.5,274.5 L1622.5,272.4 L1623.5,270.2 L1624.5,267.9 L1625.5,265.6 L1626.5,263.3 L1627.5,261.0 L1628.5,258.7 L1629.5,256.4 L1630.5,254.2 L1631.5,251.9 L1632.5,249.7 L1633.5,247.5 L1634.5,245.3 L1635.5,243.1 L1636.5,240.8 L1637.5,238.6 L1638.5,236.4 L1639.5,234.2 L1640.5,232.0 L1641.5,229.9 L1642.5,227.8 L1643.5,225.9 L1644.5,223.9 L1645.5,222.0 L1646.5,220.1 L1647.5,218.3 L1648.5,216.5 L1649.5,214.7 L1650.5,212.9 L1651.5,211.0 L1652.5,209.0 L1653.5,207.1 L1654.5,205.1 L1655.5,203.1 L1656.5,201.0 L1657.5,198.9 L1658.5,196.8 L1659.5,194.8 L1660.5,192.8 L1661.5,190.9 L1662.5,189.0 L1663.5,187.2 L1664.5,185.5 L1665.5,183.8 L1666.5,182.1 L1667.5,180.4 L1668.5,178.9 L1669.5,177.3 L1670.5,175.8 L1671.5,174.4 L1672.5,173.0 L1673.5,171.6 L1674.5,170.2 L1675.5,168.8 L1676.5,167.5 L1677.5,166.2 L1678.5,164.9 L1679.5,163.6 L1680.5,162.3 L1681.5,161.1 L1682.5,159.8 L1683.5,158.5 L1684.5,157.2 L1685.5,156.0 L1686.5,154.7 L1687.5,153.5 L1688.5,152.3 L1689.5,151.1 L1690.5,149.9 L1691.5,148.8 L1692.5,147.6 L1693.5,146.5 L1694.5,145.3 L1695.5,144.2 L1696.5,143.1 L1697.5,142.0 L1698.5,141.0 L1699.5,139.9 L1700.5,138.9 L1701.5,137.9 L1702.5,137.0 L1703.5,136.0 L1704.5,135.1 L1705.5,134.2 L1706.5,133.4 L1707.5,132.6 L1708.5,131.9 L1709.5,131.3 L1710.5,130.7 L1711.5,130.1 L1712.5,129.5 L1713.5,129.0 L1714.5,128.5 L1715.5,128.0 L1716.5,127.6 L1717.5,127.1 L1718.5,126.7 L1719.5,126.3 L1720.5,125.9 L1721.5,125.5 L1722.5,125.1 L1723.5,124.7 L1724.5,124.3 L1725.5,124.0 L1726.5,123.6 L1727.5,123.2 L1728.5,122.9 L1729.5,122.5 L1730.5,122.2 L1731.5,121.9 L1732.5,121.6 L1733.5,121.3 L1734.5,121.0 L1735.5,120.7 L1736.5,120.4 L1737.5,120.2 L1738.5,119.9 L1739.5,119.6 L1740.5,119.4 L1741.5,119.1 L1742.5,118.9 L1743.5,118.7 L1744.5,118.4 L1745.5,118.2 L1746.5,118.0 L1747.5,117.8 L1748.5,117.6 L1749.5,117.3 L1750.5,117.1 L1751.5,116.9 L1752.5,116.7 L1753.5,116.5 L1754.5,116.2 L1755.5,116.0 L1756.5,115.8 L1757.5,115.5 L1758.5,115.3 L1759.5,115.1 L1760.5,114.8 L1761.5,114.6 L1762.5,114.4 L1763.5,114.2 L1764.5,113.9 L1765.5,113.7 L1766.5,113.5 L1767.5,113.3 L1768.5,113.1 L1769.5,112.9 L1770.5,112.7 L1771.5,112.5 L1772.5,112.3 L1773.5,112.1 L1774.5,111.9 L1775.5,111.7 L1776.5,111.5 L1777.5,111.4 L1778.5,111.2 L1779.5,111.1 L1780.5,110.9 L1781.5,110.8 L1782.5,110.6 L1783.5,110.5 L1784.5,110.4 L1785.5,110.2 L1786.5,110.1 L1787.5,110.0 L1788.5,109.9 L1789.5,109.8 L1790.5,109.7 L1791.5,109.5 L1792.5,109.4 L1793.5,109.3 L1794.5,109.2 L1795.5,109.1 L1796.5,109.1 L1797.5,109.0 L1798.5,108.9 L1799.5,108.8 L1800.5,108.7 L1801.5,108.6 L1802.5,108.5 L1803.5,108.4 L1804.5,108.3 L1805.5,108.2 L1806.5,108.2 L1807.5,108.1 L1808.5,108.0 L1809.5,108.0 L1810.5,108.0 L1811.5,108.0 L1812.5,108.0 L1813.5,108.0 L1814.5,108.0 L1815.5,108.0 L1816.5,108.0 L1817.5,108.0 L1818.0,108.0" fill="none" stroke="#ff00ff" stroke-width="2" stroke-linejoin="round" shape-rendering="crispEdges"/>
<text class="t" transform="translate(0,118.70) scale(1,1.05)" x="1366.61 1380.85 1387.96" y="0">&#x2007;.0</text>
<path d="M805,0L613,0L613,1102Q450,985 240,894L240,1061Q420,1140 545,1260Q625,1340 670,1409L805,1409Z" transform="translate(1366.61,118.70) scale(0.012500,-0.013125)" fill="#000"/>
<text class="t" transform="translate(0,178.50) scale(1,1.05)" x="1366.61 1380.85 1387.96" y="0">0.8</text>
<text class="t" transform="translate(0,238.30) scale(1,1.05)" x="1366.61 1380.85 1387.96" y="0">0.6</text>
<text class="t" transform="translate(0,298.10) scale(1,1.05)" x="1366.61 1380.85 1387.96" y="0">0.4</text>
<text class="t" transform="translate(0,357.90) scale(1,1.05)" x="1366.61 1380.85 1387.96" y="0">0.2</text>
<text class="t" transform="translate(0,417.70) scale(1,1.05)" x="1366.61 1380.85 1387.96" y="0">0.0</text>
<text class="t" transform="translate(0,472.80) scale(1,1.05)" x="1431.62 1440.14" y="0">-2</text>
<text class="t" transform="translate(0,472.80) scale(1,1.05)" x="1535.62 1544.14" y="0">-&#x2007;</text>
<path d="M805,0L613,0L613,1102Q450,985 240,894L240,1061Q420,1140 545,1260Q625,1340 670,1409L805,1409Z" transform="translate(1544.14,472.80) scale(0.012500,-0.013125)" fill="#000"/>
<text class="t" transform="translate(0,472.80) scale(1,1.05)" x="1642.88" y="0">0</text>
<text class="t" transform="translate(0,472.80) scale(1,1.05)" x="1746.88" y="0">&#x2007;</text>
<path d="M805,0L613,0L613,1102Q450,985 240,894L240,1061Q420,1140 545,1260Q625,1340 670,1409L805,1409Z" transform="translate(1746.88,472.80) scale(0.012500,-0.013125)" fill="#000"/>
<text class="l" x="1637.0" y="527.8" text-anchor="middle">betaTrt</text>
<text class="l" transform="translate(1336,258.1) rotate(-90) scale(1,1.04)" x="0" y="0" text-anchor="middle">ECDF</text>
</g>
<g>
<path d="M152,669H562V998H152ZM137,684H152M562,684H578M137,744H152M562,744H578M137,804H152M562,804H578M137,863H152M562,863H578M137,923H152M562,923H578M137,983H152M562,983H578M178,998V1014M178,669V654M236,998V1014M236,669V654M295,998V1014M295,669V654M354,998V1014M354,669V654M412,998V1014M412,669V654M471,998V1014M471,669V654M530,998V1014M530,669V654M152,684H562M152,983H562" fill="none" stroke="#000" stroke-width="2" shape-rendering="crispEdges"/>
<path d="M210.0,983.0 L211.0,983.0 L212.0,983.0 L213.0,983.0 L214.0,983.0 L215.0,983.0 L216.0,983.0 L217.0,983.0 L218.0,983.0 L219.0,983.0 L220.0,982.9 L221.0,982.9 L222.0,982.8 L223.0,982.8 L224.0,982.7 L225.0,982.6 L226.0,982.5 L227.0,982.4 L228.0,982.3 L229.0,982.2 L230.0,982.1 L231.0,981.9 L232.0,981.8 L233.0,981.7 L234.0,981.5 L235.0,981.4 L236.0,981.2 L237.0,981.2 L238.0,981.1 L239.0,981.0 L240.0,980.9 L241.0,980.8 L242.0,980.6 L243.0,980.4 L244.0,980.2 L245.0,980.0 L246.0,979.8 L247.0,979.5 L248.0,979.3 L249.0,979.0 L250.0,978.7 L251.0,978.4 L252.0,978.1 L253.0,977.8 L254.0,977.5 L255.0,977.2 L256.0,976.9 L257.0,976.6 L258.0,976.3 L259.0,975.9 L260.0,975.6 L261.0,975.2 L262.0,974.8 L263.0,974.5 L264.0,974.1 L265.0,973.6 L266.0,973.2 L267.0,972.7 L268.0,972.2 L269.0,971.7 L270.0,971.2 L271.0,970.6 L272.0,970.0 L273.0,969.4 L274.0,968.8 L275.0,968.2 L276.0,967.5 L277.0,966.9 L278.0,966.2 L279.0,965.5 L280.0,964.8 L281.0,964.1 L282.0,963.4 L283.0,962.7 L284.0,961.9 L285.0,961.1 L286.0,960.4 L287.0,959.6 L288.0,958.8 L289.0,958.0 L290.0,957.2 L291.0,956.3 L292.0,955.5 L293.0,954.6 L294.0,953.6 L295.0,952.7 L296.0,951.7 L297.0,950.7 L298.0,949.6 L299.0,948.5 L300.0,947.4 L301.0,946.3 L302.0,945.1 L303.0,943.9 L304.0,942.7 L305.0,941.5 L306.0,940.2 L307.0,938.8 L308.0,937.3 L309.0,935.7 L310.0,934.1 L311.0,932.5 L312.0,930.8 L313.0,929.1 L314.0,927.3 L315.0,925.6 L316.0,923.9 L317.0,922.3 L318.0,920.6 L319.0,919.0 L320.0,917.3 L321.0,915.7 L322.0,914.0 L323.0,912.2 L324.0,910.5 L325.0,908.7 L326.0,906.9 L327.0,905.0 L328.0,903.1 L329.0,901.1 L330.0,899.2 L331.0,897.3 L332.0,895.4 L333.0,893.5 L334.0,891.6 L335.0,889.6 L336.0,887.7 L337.0,885.7 L338.0,883.6 L339.0,881.6 L340.0,879.5 L341.0,877.4 L342.0,875.2 L343.0,873.1 L344.0,870.9 L345.0,868.7 L346.0,866.5 L347.0,864.2 L348.0,861.9 L349.0,859.6 L350.0,857.3 L351.0,855.0 L352.0,852.7 L353.0,850.5 L354.0,848.2 L355.0,846.0 L356.0,843.8 L357.0,841.7 L358.0,839.5 L359.0,837.5 L360.0,835.5 L361.0,833.5 L362.0,831.5 L363.0,829.5 L364.0,827.5 L365.0,825.4 L366.0,823.3 L367.0,821.2 L368.0,818.9 L369.0,816.5 L370.0,814.1 L371.0,811.7 L372.0,809.3 L373.0,806.8 L374.0,804.4 L375.0,801.8 L376.0,799.3 L377.0,796.6 L378.0,793.8 L379.0,791.1 L380.0,788.8 L381.0,786.5 L382.0,784.4 L383.0,782.3 L384.0,780.3 L385.0,778.3 L386.0,776.3 L387.0,774.3 L388.0,772.3 L389.0,770.3 L390.0,768.3 L391.0,766.3 L392.0,764.4 L393.0,762.4 L394.0,760.5 L395.0,758.7 L396.0,756.9 L397.0,755.1 L398.0,753.4 L399.0,751.7 L400.0,750.0 L401.0,748.3 L402.0,746.5 L403.0,744.8 L404.0,743.1 L405.0,741.3 L406.0,739.6 L407.0,737.8 L408.0,736.0 L409.0,734.3 L410.0,732.7 L411.0,731.2 L412.0,729.7 L413.0,728.3 L414.0,726.9 L415.0,725.6 L416.0,724.3 L417.0,723.0 L418.0,721.8 L419.0,720.6 L420.0,719.5 L421.0,718.3 L422.0,717.2 L423.0,716.1 L424.0,715.0 L425.0,714.0 L426.0,712.9 L427.0,711.9 L428.0,710.9 L429.0,709.9 L430.0,708.9 L431.0,708.0 L432.0,707.0 L433.0,706.1 L434.0,705.2 L435.0,704.3 L436.0,703.5 L437.0,702.7 L438.0,701.9 L439.0,701.2 L440.0,700.6 L441.0,699.9 L442.0,699.3 L443.0,698.8 L444.0,698.2 L445.0,697.7 L446.0,697.2 L447.0,696.7 L448.0,696.3 L449.0,695.9 L450.0,695.5 L451.0,695.2 L452.0,694.8 L453.0,694.5 L454.0,694.1 L455.0,693.8 L456.0,693.5 L457.0,693.1 L458.0,692.8 L459.0,692.5 L460.0,692.1 L461.0,691.8 L462.0,691.5 L463.0,691.2 L464.0,690.9 L465.0,690.6 L466.0,690.3 L467.0,690.0 L468.0,689.7 L469.0,689.3 L470.0,689.0 L471.0,688.7 L472.0,688.5 L473.0,688.2 L474.0,688.0 L475.0,687.8 L476.0,687.6 L477.0,687.5 L478.0,687.3 L479.0,687.2 L480.0,687.1 L481.0,686.9 L482.0,686.8 L483.0,686.7 L484.0,686.6 L485.0,686.5 L486.0,686.4 L487.0,686.3 L488.0,686.2 L489.0,686.1 L490.0,686.0 L491.0,685.9 L492.0,685.8 L493.0,685.7 L494.0,685.6 L495.0,685.6 L496.0,685.5 L497.0,685.4 L498.0,685.3 L499.0,685.3 L500.0,685.2" fill="none" stroke="#0080ff" stroke-width="2" stroke-linejoin="round" shape-rendering="crispEdges"/>
<path d="M177.0,983.0 L178.0,983.0 L179.0,983.0 L180.0,983.0 L181.0,983.0 L182.0,983.0 L183.0,983.0 L184.0,983.0 L185.0,983.0 L186.0,983.0 L187.0,983.0 L188.0,983.0 L189.0,983.0 L190.0,982.9 L191.0,982.9 L192.0,982.8 L193.0,982.8 L194.0,982.7 L195.0,982.6 L196.0,982.6 L197.0,982.5 L198.0,982.4 L199.0,982.3 L200.0,982.2 L201.0,982.1 L202.0,982.0 L203.0,982.0 L204.0,981.9 L205.0,981.8 L206.0,981.7 L207.0,981.6 L208.0,981.5 L209.0,981.4 L210.0,981.3 L211.0,981.2 L212.0,981.1 L213.0,981.0 L214.0,980.9 L215.0,980.8 L216.0,980.7 L217.0,980.6 L218.0,980.6 L219.0,980.5 L220.0,980.4 L221.0,980.3 L222.0,980.2 L223.0,980.1 L224.0,980.0 L225.0,980.0 L226.0,979.9 L227.0,979.8 L228.0,979.7 L229.0,979.6 L230.0,979.5 L231.0,979.4 L232.0,979.4 L233.0,979.3 L234.0,979.2 L235.0,979.1 L236.0,978.9 L237.0,978.8 L238.0,978.7 L239.0,978.6 L240.0,978.4 L241.0,978.3 L242.0,978.1 L243.0,977.9 L244.0,977.6 L245.0,977.3 L246.0,977.0 L247.0,976.7 L248.0,976.4 L249.0,976.2 L250.0,975.9 L251.0,975.6 L252.0,975.4 L253.0,975.1 L254.0,974.9 L255.0,974.6 L256.0,974.3 L257.0,974.1 L258.0,973.8 L259.0,973.5 L260.0,973.2 L261.0,972.9 L262.0,972.6 L263.0,972.3 L264.0,971.9 L265.0,971.5 L266.0,971.1 L267.0,970.7 L268.0,970.2 L269.0,969.7 L270.0,969.2 L271.0,968.6 L272.0,968.0 L273.0,967.4 L274.0,966.8 L275.0,966.2 L276.0,965.6 L277.0,965.0 L278.0,964.3 L279.0,963.7 L280.0,963.1 L281.0,962.5 L282.0,961.9 L283.0,961.2 L284.0,960.5 L285.0,959.8 L286.0,959.1 L287.0,958.3 L288.0,957.5 L289.0,956.7 L290.0,955.8 L291.0,954.8 L292.0,953.8 L293.0,952.8 L294.0,951.8 L295.0,950.8 L296.0,949.7 L297.0,948.6 L298.0,947.5 L299.0,946.4 L300.0,945.2 L301.0,944.1 L302.0,942.9 L303.0,941.8 L304.0,940.7 L305.0,939.5 L306.0,938.2 L307.0,937.0 L308.0,935.7 L309.0,934.4 L310.0,933.1 L311.0,931.7 L312.0,930.3 L313.0,928.9 L314.0,927.5 L315.0,926.0 L316.0,924.5 L317.0,923.0 L318.0,921.6 L319.0,920.1 L320.0,918.6 L321.0,917.1 L322.0,915.5 L323.0,913.8 L324.0,912.2 L325.0,910.5 L326.0,908.7 L327.0,906.9 L328.0,905.0 L329.0,903.1 L330.0,901.1 L331.0,899.2 L332.0,897.3 L333.0,895.4 L334.0,893.5 L335.0,891.6 L336.0,889.6 L337.0,887.7 L338.0,885.7 L339.0,883.6 L340.0,881.6 L341.0,879.5 L342.0,877.4 L343.0,875.2 L344.0,873.1 L345.0,871.0 L346.0,868.8 L347.0,866.7 L348.0,864.5 L349.0,862.4 L350.0,860.2 L351.0,858.0 L352.0,855.9 L353.0,853.7 L354.0,851.5 L355.0,849.3 L356.0,847.1 L357.0,844.9 L358.0,842.8 L359.0,840.6 L360.0,838.5 L361.0,836.5 L362.0,834.5 L363.0,832.5 L364.0,830.5 L365.0,828.5 L366.0,826.4 L367.0,824.4 L368.0,822.3 L369.0,820.0 L370.0,817.7 L371.0,815.3 L372.0,812.9 L373.0,810.5 L374.0,808.0 L375.0,805.6 L376.0,803.2 L377.0,800.8 L378.0,798.5 L379.0,796.2 L380.0,793.9 L381.0,791.7 L382.0,789.5 L383.0,787.4 L384.0,785.4 L385.0,783.3 L386.0,781.3 L387.0,779.3 L388.0,777.3 L389.0,775.3 L390.0,773.4 L391.0,771.4 L392.0,769.5 L393.0,767.6 L394.0,765.8 L395.0,764.0 L396.0,762.3 L397.0,760.5 L398.0,758.8 L399.0,757.1 L400.0,755.5 L401.0,753.9 L402.0,752.2 L403.0,750.5 L404.0,748.8 L405.0,747.0 L406.0,745.1 L407.0,743.3 L408.0,741.5 L409.0,739.6 L410.0,737.8 L411.0,735.9 L412.0,734.1 L413.0,732.5 L414.0,731.0 L415.0,729.5 L416.0,728.1 L417.0,726.8 L418.0,725.4 L419.0,724.1 L420.0,722.8 L421.0,721.6 L422.0,720.4 L423.0,719.2 L424.0,718.0 L425.0,716.9 L426.0,715.8 L427.0,714.7 L428.0,713.6 L429.0,712.5 L430.0,711.5 L431.0,710.4 L432.0,709.4 L433.0,708.4 L434.0,707.5 L435.0,706.5 L436.0,705.6 L437.0,704.6 L438.0,703.7 L439.0,702.9 L440.0,702.1 L441.0,701.3 L442.0,700.6 L443.0,699.9 L444.0,699.2 L445.0,698.6 L446.0,697.9 L447.0,697.4 L448.0,696.9 L449.0,696.4 L450.0,695.9 L451.0,695.5 L452.0,695.1 L453.0,694.7 L454.0,694.3 L455.0,694.0 L456.0,693.6 L457.0,693.2 L458.0,692.8 L459.0,692.4 L460.0,692.0 L461.0,691.6 L462.0,691.2 L463.0,690.8 L464.0,690.4 L465.0,690.0 L466.0,689.6 L467.0,689.3 L468.0,688.9 L469.0,688.6 L470.0,688.2 L471.0,687.9 L472.0,687.6 L473.0,687.4 L474.0,687.1 L475.0,686.9 L476.0,686.6 L477.0,686.4 L478.0,686.2 L479.0,686.0 L480.0,685.8 L481.0,685.6 L482.0,685.5 L483.0,685.3 L484.0,685.2 L485.0,685.1 L486.0,684.9 L487.0,684.8 L488.0,684.6 L489.0,684.5 L490.0,684.3 L491.0,684.1 L492.0,684.0 L493.0,684.0 L494.0,684.0 L495.0,684.0 L496.0,684.0 L497.0,684.0 L498.0,684.0 L499.0,684.0 L500.0,684.0 L501.0,684.0 L502.0,684.0 L503.0,684.0 L504.0,684.0 L505.0,684.0 L506.0,684.0 L507.0,684.0 L508.0,684.0 L509.0,684.0 L510.0,684.0 L511.0,684.0 L512.0,684.0 L513.0,684.0 L514.0,684.0 L515.0,684.0 L516.0,684.0 L517.0,684.0 L518.0,684.0 L519.0,684.0 L520.0,684.0 L521.0,684.0 L522.0,684.0 L523.0,684.0 L524.0,684.0 L525.0,684.0 L526.0,684.0 L527.0,684.0 L528.0,684.0 L529.0,684.0 L530.0,684.0 L531.0,684.0 L532.0,684.0 L533.0,684.0 L534.0,684.0 L535.0,684.0 L536.0,684.0 L537.0,684.0 L538.0,684.0" fill="none" stroke="#ff00ff" stroke-width="2" stroke-linejoin="round" shape-rendering="crispEdges"/>
<text class="t" transform="translate(0,694.70) scale(1,1.05)" x="86.61 100.85 107.96" y="0">&#x2007;.0</text>
<path d="M805,0L613,0L613,1102Q450,985 240,894L240,1061Q420,1140 545,1260Q625,1340 670,1409L805,1409Z" transform="translate(86.61,694.70) scale(0.012500,-0.013125)" fill="#000"/>
<text class="t" transform="translate(0,754.50) scale(1,1.05)" x="86.61 100.85 107.96" y="0">0.8</text>
<text class="t" transform="translate(0,814.30) scale(1,1.05)" x="86.61 100.85 107.96" y="0">0.6</text>
<text class="t" transform="translate(0,874.10) scale(1,1.05)" x="86.61 100.85 107.96" y="0">0.4</text>
<text class="t" transform="translate(0,933.90) scale(1,1.05)" x="86.61 100.85 107.96" y="0">0.2</text>
<text class="t" transform="translate(0,993.70) scale(1,1.05)" x="86.61 100.85 107.96" y="0">0.0</text>
<text class="t" transform="translate(0,1048.80) scale(1,1.05)" x="148.82 157.35 171.59 178.70 192.94" y="0">-0.55</text>
<text class="t" transform="translate(0,1048.80) scale(1,1.05)" x="206.82 215.35 229.59 236.70 250.94" y="0">-0.50</text>
<text class="t" transform="translate(0,1048.80) scale(1,1.05)" x="265.82 274.35 288.59 295.70 309.94" y="0">-0.45</text>
<text class="t" transform="translate(0,1048.80) scale(1,1.05)" x="324.82 333.35 347.59 354.70 368.94" y="0">-0.40</text>
<text class="t" transform="translate(0,1048.80) scale(1,1.05)" x="382.82 391.35 405.59 412.70 426.94" y="0">-0.35</text>
<text class="t" transform="translate(0,1048.80) scale(1,1.05)" x="441.82 450.35 464.59 471.70 485.94" y="0">-0.30</text>
<text class="t" transform="translate(0,1048.80) scale(1,1.05)" x="500.82 509.35 523.59 530.70 544.94" y="0">-0.25</text>
<text class="l" x="357.0" y="1103.8" text-anchor="middle">betaTime</text>
<text class="l" transform="translate(56,834.1) rotate(-90) scale(1,1.04)" x="0" y="0" text-anchor="middle">ECDF</text>
</g>
<g>
<path d="M792,669H1202V998H792ZM777,684H792M1202,684H1218M777,744H792M1202,744H1218M777,804H792M1202,804H1218M777,863H792M1202,863H1218M777,923H792M1202,923H1218M777,983H792M1202,983H1218M863,998V1014M863,669V654M943,998V1014M943,669V654M1024,998V1014M1024,669V654M1104,998V1014M1104,669V654M1184,998V1014M1184,669V654M792,684H1202M792,983H1202" fill="none" stroke="#000" stroke-width="2" shape-rendering="crispEdges"/>
<path d="M817.0,983.0 L818.0,983.0 L819.0,983.0 L820.0,983.0 L821.0,983.0 L822.0,983.0 L823.0,983.0 L824.0,983.0 L825.0,983.0 L826.0,983.0 L827.0,983.0 L828.0,983.0 L829.0,983.0 L830.0,983.0 L831.0,983.0 L832.0,983.0 L833.0,983.0 L834.0,982.9 L835.0,982.9 L836.0,982.8 L837.0,982.8 L838.0,982.7 L839.0,982.7 L840.0,982.6 L841.0,982.5 L842.0,982.4 L843.0,982.4 L844.0,982.3 L845.0,982.2 L846.0,982.1 L847.0,982.1 L848.0,982.0 L849.0,981.9 L850.0,981.9 L851.0,981.8 L852.0,981.7 L853.0,981.6 L854.0,981.5 L855.0,981.4 L856.0,981.3 L857.0,981.2 L858.0,981.1 L859.0,981.0 L860.0,980.9 L861.0,980.8 L862.0,980.6 L863.0,980.5 L864.0,980.3 L865.0,980.2 L866.0,980.0 L867.0,979.8 L868.0,979.7 L869.0,979.5 L870.0,979.3 L871.0,979.1 L872.0,978.9 L873.0,978.6 L874.0,978.2 L875.0,977.9 L876.0,977.6 L877.0,977.3 L878.0,977.0 L879.0,976.7 L880.0,976.5 L881.0,976.2 L882.0,975.9 L883.0,975.6 L884.0,975.2 L885.0,974.9 L886.0,974.6 L887.0,974.2 L888.0,973.8 L889.0,973.5 L890.0,973.2 L891.0,972.8 L892.0,972.5 L893.0,972.1 L894.0,971.7 L895.0,971.4 L896.0,971.0 L897.0,970.5 L898.0,970.1 L899.0,969.5 L900.0,968.9 L901.0,968.2 L902.0,967.5 L903.0,966.8 L904.0,965.9 L905.0,965.1 L906.0,964.3 L907.0,963.5 L908.0,962.6 L909.0,961.8 L910.0,961.0 L911.0,960.2 L912.0,959.4 L913.0,958.6 L914.0,957.7 L915.0,956.9 L916.0,956.1 L917.0,955.2 L918.0,954.3 L919.0,953.4 L920.0,952.5 L921.0,951.6 L922.0,950.7 L923.0,949.7 L924.0,948.7 L925.0,947.6 L926.0,946.6 L927.0,945.5 L928.0,944.3 L929.0,943.2 L930.0,942.0 L931.0,940.8 L932.0,939.6 L933.0,938.3 L934.0,937.0 L935.0,935.6 L936.0,934.3 L937.0,932.9 L938.0,931.5 L939.0,930.1 L940.0,928.6 L941.0,927.1 L942.0,925.7 L943.0,924.2 L944.0,922.7 L945.0,921.2 L946.0,919.7 L947.0,918.2 L948.0,916.7 L949.0,915.1 L950.0,913.6 L951.0,912.1 L952.0,910.5 L953.0,908.9 L954.0,907.3 L955.0,905.5 L956.0,903.8 L957.0,902.0 L958.0,900.2 L959.0,898.5 L960.0,896.8 L961.0,895.1 L962.0,893.5 L963.0,891.8 L964.0,890.3 L965.0,888.7 L966.0,887.2 L967.0,885.7 L968.0,884.2 L969.0,882.6 L970.0,881.0 L971.0,879.4 L972.0,877.8 L973.0,876.1 L974.0,874.3 L975.0,872.4 L976.0,870.3 L977.0,868.2 L978.0,866.1 L979.0,863.9 L980.0,861.7 L981.0,859.4 L982.0,857.1 L983.0,854.9 L984.0,852.8 L985.0,850.8 L986.0,848.8 L987.0,846.8 L988.0,844.8 L989.0,842.9 L990.0,840.9 L991.0,839.0 L992.0,837.0 L993.0,834.9 L994.0,832.8 L995.0,830.8 L996.0,828.7 L997.0,826.6 L998.0,824.5 L999.0,822.3 L1000.0,820.2 L1001.0,818.0 L1002.0,815.8 L1003.0,813.6 L1004.0,811.4 L1005.0,809.2 L1006.0,806.9 L1007.0,804.7 L1008.0,802.5 L1009.0,800.3 L1010.0,798.0 L1011.0,795.8 L1012.0,793.7 L1013.0,791.5 L1014.0,789.3 L1015.0,787.2 L1016.0,785.1 L1017.0,783.0 L1018.0,781.0 L1019.0,778.9 L1020.0,776.9 L1021.0,774.9 L1022.0,772.9 L1023.0,770.9 L1024.0,768.9 L1025.0,766.9 L1026.0,764.9 L1027.0,763.0 L1028.0,761.1 L1029.0,759.2 L1030.0,757.3 L1031.0,755.5 L1032.0,753.6 L1033.0,751.8 L1034.0,750.0 L1035.0,748.3 L1036.0,746.5 L1037.0,744.8 L1038.0,743.1 L1039.0,741.5 L1040.0,739.9 L1041.0,738.4 L1042.0,736.9 L1043.0,735.5 L1044.0,734.1 L1045.0,732.7 L1046.0,731.4 L1047.0,730.1 L1048.0,728.9 L1049.0,727.7 L1050.0,726.5 L1051.0,725.4 L1052.0,724.3 L1053.0,723.2 L1054.0,722.1 L1055.0,721.0 L1056.0,720.0 L1057.0,718.9 L1058.0,717.9 L1059.0,716.9 L1060.0,715.9 L1061.0,715.0 L1062.0,714.0 L1063.0,713.1 L1064.0,712.1 L1065.0,711.2 L1066.0,710.3 L1067.0,709.4 L1068.0,708.5 L1069.0,707.7 L1070.0,706.9 L1071.0,706.1 L1072.0,705.3 L1073.0,704.5 L1074.0,703.8 L1075.0,703.1 L1076.0,702.4 L1077.0,701.7 L1078.0,701.0 L1079.0,700.4 L1080.0,699.8 L1081.0,699.2 L1082.0,698.6 L1083.0,698.1 L1084.0,697.5 L1085.0,697.0 L1086.0,696.5 L1087.0,696.0 L1088.0,695.5 L1089.0,695.1 L1090.0,694.6 L1091.0,694.2 L1092.0,693.8 L1093.0,693.4 L1094.0,693.0 L1095.0,692.6 L1096.0,692.2 L1097.0,691.8 L1098.0,691.4 L1099.0,691.1 L1100.0,690.7 L1101.0,690.4 L1102.0,690.0 L1103.0,689.7 L1104.0,689.5 L1105.0,689.2 L1106.0,689.0 L1107.0,688.8 L1108.0,688.6 L1109.0,688.4 L1110.0,688.2 L1111.0,688.0 L1112.0,687.9 L1113.0,687.7 L1114.0,687.5 L1115.0,687.4 L1116.0,687.2 L1117.0,687.0 L1118.0,686.9 L1119.0,686.7 L1120.0,686.5 L1121.0,686.4 L1122.0,686.2 L1123.0,686.0 L1124.0,685.9 L1125.0,685.7 L1126.0,685.6 L1127.0,685.5 L1128.0,685.3 L1129.0,685.2 L1130.0,685.1 L1131.0,685.0 L1132.0,684.9 L1133.0,684.9 L1134.0,684.8 L1135.0,684.7 L1136.0,684.6 L1137.0,684.5 L1138.0,684.4 L1139.0,684.3 L1140.0,684.2 L1141.0,684.1 L1142.0,684.0" fill="none" stroke="#0080ff" stroke-width="2" stroke-linejoin="round" shape-rendering="crispEdges"/>
<path d="M823.4,983.0 L824.4,983.0 L825.4,983.0 L826.4,983.0 L827.4,983.0 L828.4,983.0 L829.4,983.0 L830.4,983.0 L831.4,983.0 L832.4,983.0 L833.4,983.0 L834.4,983.0 L835.4,983.0 L836.4,982.9 L837.4,982.9 L838.4,982.9 L839.4,982.8 L840.4,982.7 L841.4,982.7 L842.4,982.6 L843.4,982.5 L844.4,982.5 L845.4,982.4 L846.4,982.3 L847.4,982.2 L848.4,982.1 L849.4,982.1 L850.4,982.0 L851.4,981.9 L852.4,981.8 L853.4,981.8 L854.4,981.7 L855.4,981.6 L856.4,981.5 L857.4,981.4 L858.4,981.3 L859.4,981.2 L860.4,981.1 L861.4,981.0 L862.4,980.9 L863.4,980.7 L864.4,980.6 L865.4,980.4 L866.4,980.3 L867.4,980.1 L868.4,980.0 L869.4,979.8 L870.4,979.7 L871.4,979.5 L872.4,979.3 L873.4,979.1 L874.4,978.9 L875.4,978.6 L876.4,978.3 L877.4,977.9 L878.4,977.6 L879.4,977.3 L880.4,977.1 L881.4,976.8 L882.4,976.5 L883.4,976.2 L884.4,975.9 L885.4,975.6 L886.4,975.3 L887.4,974.9 L888.4,974.6 L889.4,974.2 L890.4,973.9 L891.4,973.5 L892.4,973.2 L893.4,972.8 L894.4,972.5 L895.4,972.1 L896.4,971.8 L897.4,971.4 L898.4,971.0 L899.4,970.6 L900.4,970.1 L901.4,969.6 L902.4,969.0 L903.4,968.3 L904.4,967.6 L905.4,966.8 L906.4,966.0 L907.4,965.2 L908.4,964.3 L909.4,963.4 L910.4,962.4 L911.4,961.5 L912.4,960.5 L913.4,959.5 L914.4,958.4 L915.4,957.4 L916.4,956.3 L917.4,955.3 L918.4,954.2 L919.4,953.2 L920.4,952.1 L921.4,951.0 L922.4,949.9 L923.4,948.8 L924.4,947.6 L925.4,946.4 L926.4,945.2 L927.4,944.0 L928.4,942.8 L929.4,941.5 L930.4,940.2 L931.4,938.9 L932.4,937.5 L933.4,936.1 L934.4,934.7 L935.4,933.3 L936.4,931.9 L937.4,930.4 L938.4,928.9 L939.4,927.5 L940.4,926.0 L941.4,924.4 L942.4,922.9 L943.4,921.4 L944.4,919.8 L945.4,918.2 L946.4,916.6 L947.4,915.0 L948.4,913.4 L949.4,911.8 L950.4,910.2 L951.4,908.5 L952.4,906.8 L953.4,905.1 L954.4,903.3 L955.4,901.5 L956.4,899.7 L957.4,897.8 L958.4,895.8 L959.4,893.8 L960.4,891.8 L961.4,889.9 L962.4,887.9 L963.4,886.0 L964.4,884.0 L965.4,882.1 L966.4,880.2 L967.4,878.3 L968.4,876.4 L969.4,874.5 L970.4,872.5 L971.4,870.5 L972.4,868.4 L973.4,866.3 L974.4,864.2 L975.4,862.1 L976.4,860.0 L977.4,857.8 L978.4,855.7 L979.4,853.7 L980.4,851.7 L981.4,849.6 L982.4,847.6 L983.4,845.6 L984.4,843.5 L985.4,841.4 L986.4,839.3 L987.4,837.1 L988.4,834.9 L989.4,832.6 L990.4,830.4 L991.4,828.2 L992.4,825.9 L993.4,823.7 L994.4,821.5 L995.4,819.3 L996.4,817.1 L997.4,815.0 L998.4,812.9 L999.4,810.8 L1000.4,808.8 L1001.4,806.7 L1002.4,804.7 L1003.4,802.6 L1004.4,800.6 L1005.4,798.5 L1006.4,796.5 L1007.4,794.4 L1008.4,792.3 L1009.4,790.2 L1010.4,788.1 L1011.4,786.0 L1012.4,784.0 L1013.4,781.9 L1014.4,779.9 L1015.4,777.8 L1016.4,775.8 L1017.4,773.8 L1018.4,771.8 L1019.4,769.7 L1020.4,767.8 L1021.4,765.8 L1022.4,763.9 L1023.4,762.2 L1024.4,760.5 L1025.4,758.9 L1026.4,757.3 L1027.4,755.8 L1028.4,754.3 L1029.4,752.8 L1030.4,751.4 L1031.4,750.0 L1032.4,748.6 L1033.4,747.2 L1034.4,745.8 L1035.4,744.3 L1036.4,742.8 L1037.4,741.3 L1038.4,739.8 L1039.4,738.3 L1040.4,736.9 L1041.4,735.4 L1042.4,733.9 L1043.4,732.5 L1044.4,731.1 L1045.4,729.8 L1046.4,728.5 L1047.4,727.2 L1048.4,726.0 L1049.4,724.8 L1050.4,723.6 L1051.4,722.5 L1052.4,721.3 L1053.4,720.3 L1054.4,719.2 L1055.4,718.2 L1056.4,717.2 L1057.4,716.2 L1058.4,715.2 L1059.4,714.3 L1060.4,713.3 L1061.4,712.4 L1062.4,711.5 L1063.4,710.6 L1064.4,709.8 L1065.4,708.9 L1066.4,708.1 L1067.4,707.2 L1068.4,706.4 L1069.4,705.7 L1070.4,704.9 L1071.4,704.2 L1072.4,703.5 L1073.4,702.8 L1074.4,702.1 L1075.4,701.5 L1076.4,700.9 L1077.4,700.3 L1078.4,699.7 L1079.4,699.2 L1080.4,698.7 L1081.4,698.2 L1082.4,697.7 L1083.4,697.2 L1084.4,696.8 L1085.4,696.3 L1086.4,695.9 L1087.4,695.5 L1088.4,695.0 L1089.4,694.6 L1090.4,694.2 L1091.4,693.8 L1092.4,693.5 L1093.4,693.1 L1094.4,692.7 L1095.4,692.4 L1096.4,692.0 L1097.4,691.6 L1098.4,691.3 L1099.4,690.9 L1100.4,690.5 L1101.4,690.2 L1102.4,689.9 L1103.4,689.6 L1104.4,689.3 L1105.4,689.1 L1106.4,688.9 L1107.4,688.7 L1108.4,688.5 L1109.4,688.3 L1110.4,688.1 L1111.4,688.0 L1112.4,687.8 L1113.4,687.6 L1114.4,687.5 L1115.4,687.3 L1116.4,687.2 L1117.4,687.0 L1118.4,686.8 L1119.4,686.6 L1120.4,686.5 L1121.4,686.3 L1122.4,686.1 L1123.4,686.0 L1124.4,685.8 L1125.4,685.7 L1126.4,685.5 L1127.4,685.4 L1128.4,685.3 L1129.4,685.2 L1130.4,685.1 L1131.4,685.1 L1132.4,685.0 L1133.4,684.9 L1134.4,684.9 L1135.4,684.8 L1136.4,684.7 L1137.4,684.6 L1138.4,684.5 L1139.4,684.3 L1140.4,684.2 L1141.4,684.1 L1142.4,684.0 L1143.4,684.0 L1144.4,684.0 L1145.4,684.0 L1146.4,684.0 L1147.4,684.0 L1148.4,684.0 L1149.4,684.0 L1150.4,684.0 L1151.4,684.0 L1152.4,684.0 L1153.4,684.0 L1154.4,684.0 L1155.4,684.0 L1156.4,684.0 L1157.4,684.0 L1158.4,684.0 L1159.4,684.0 L1160.4,684.0 L1161.4,684.0 L1162.4,684.0 L1163.4,684.0 L1164.4,684.0 L1165.4,684.0 L1166.4,684.0 L1167.4,684.0 L1168.4,684.0 L1169.4,684.0 L1170.4,684.0 L1171.4,684.0 L1172.4,684.0 L1173.4,684.0 L1174.4,684.0 L1175.4,684.0 L1176.4,684.0 L1177.4,684.0 L1178.0,684.0" fill="none" stroke="#ff00ff" stroke-width="2" stroke-linejoin="round" shape-rendering="crispEdges"/>
<text class="t" transform="translate(0,694.70) scale(1,1.05)" x="726.61 740.85 747.96" y="0">&#x2007;.0</text>
<path d="M805,0L613,0L613,1102Q450,985 240,894L240,1061Q420,1140 545,1260Q625,1340 670,1409L805,1409Z" transform="translate(726.61,694.70) scale(0.012500,-0.013125)" fill="#000"/>
<text class="t" transform="translate(0,754.50) scale(1,1.05)" x="726.61 740.85 747.96" y="0">0.8</text>
<text class="t" transform="translate(0,814.30) scale(1,1.05)" x="726.61 740.85 747.96" y="0">0.6</text>
<text class="t" transform="translate(0,874.10) scale(1,1.05)" x="726.61 740.85 747.96" y="0">0.4</text>
<text class="t" transform="translate(0,933.90) scale(1,1.05)" x="726.61 740.85 747.96" y="0">0.2</text>
<text class="t" transform="translate(0,993.70) scale(1,1.05)" x="726.61 740.85 747.96" y="0">0.0</text>
<text class="t" transform="translate(0,1048.80) scale(1,1.05)" x="840.94 849.47 863.71 870.82" y="0">-0.3</text>
<text class="t" transform="translate(0,1048.80) scale(1,1.05)" x="920.94 929.47 943.71 950.82" y="0">-0.2</text>
<text class="t" transform="translate(0,1048.80) scale(1,1.05)" x="1001.94 1010.47 1024.71 1031.82" y="0">-0.&#x2007;</text>
<path d="M805,0L613,0L613,1102Q450,985 240,894L240,1061Q420,1140 545,1260Q625,1340 670,1409L805,1409Z" transform="translate(1031.82,1048.80) scale(0.012500,-0.013125)" fill="#000"/>
<text class="t" transform="translate(0,1048.80) scale(1,1.05)" x="1086.21 1100.44 1107.56" y="0">0.0</text>
<text class="t" transform="translate(0,1048.80) scale(1,1.05)" x="1166.21 1180.44 1187.56" y="0">0.&#x2007;</text>
<path d="M805,0L613,0L613,1102Q450,985 240,894L240,1061Q420,1140 545,1260Q625,1340 670,1409L805,1409Z" transform="translate(1187.56,1048.80) scale(0.012500,-0.013125)" fill="#000"/>
<text class="l" x="997.0" y="1103.8" text-anchor="middle">betaTrtTime</text>
<text class="l" transform="translate(696,834.1) rotate(-90) scale(1,1.04)" x="0" y="0" text-anchor="middle">ECDF</text>
</g>
<g>
<path d="M1432,669H1842V998H1432ZM1417,684H1432M1842,684H1858M1417,744H1432M1842,744H1858M1417,804H1432M1842,804H1858M1417,863H1432M1842,863H1858M1417,923H1432M1842,923H1858M1417,983H1432M1842,983H1858M1453,998V1014M1453,669V654M1518,998V1014M1518,669V654M1582,998V1014M1582,669V654M1647,998V1014M1647,669V654M1712,998V1014M1712,669V654M1776,998V1014M1776,669V654M1841,998V1014M1841,669V654M1432,684H1842M1432,983H1842" fill="none" stroke="#000" stroke-width="2" shape-rendering="crispEdges"/>
<path d="M1457.0,983.0 L1458.0,983.0 L1459.0,983.0 L1460.0,983.0 L1461.0,983.0 L1462.0,983.0 L1463.0,983.0 L1464.0,983.0 L1465.0,983.0 L1466.0,983.0 L1467.0,983.0 L1468.0,983.0 L1469.0,983.0 L1470.0,983.0 L1471.0,983.0 L1472.0,982.9 L1473.0,982.8 L1474.0,982.7 L1475.0,982.6 L1476.0,982.4 L1477.0,982.3 L1478.0,982.1 L1479.0,982.0 L1480.0,981.9 L1481.0,981.7 L1482.0,981.6 L1483.0,981.5 L1484.0,981.3 L1485.0,981.2 L1486.0,981.0 L1487.0,980.8 L1488.0,980.7 L1489.0,980.5 L1490.0,980.4 L1491.0,980.2 L1492.0,980.0 L1493.0,979.8 L1494.0,979.6 L1495.0,979.4 L1496.0,979.1 L1497.0,978.9 L1498.0,978.6 L1499.0,978.3 L1500.0,978.0 L1501.0,977.5 L1502.0,976.8 L1503.0,976.1 L1504.0,975.5 L1505.0,974.9 L1506.0,974.3 L1507.0,973.7 L1508.0,973.1 L1509.0,972.5 L1510.0,971.8 L1511.0,971.2 L1512.0,970.4 L1513.0,969.6 L1514.0,968.7 L1515.0,967.8 L1516.0,966.9 L1517.0,966.0 L1518.0,965.1 L1519.0,964.1 L1520.0,963.1 L1521.0,962.2 L1522.0,961.1 L1523.0,960.1 L1524.0,959.1 L1525.0,958.1 L1526.0,957.1 L1527.0,956.0 L1528.0,954.9 L1529.0,953.7 L1530.0,952.5 L1531.0,951.2 L1532.0,949.7 L1533.0,948.3 L1534.0,946.8 L1535.0,945.3 L1536.0,943.8 L1537.0,942.3 L1538.0,940.7 L1539.0,939.1 L1540.0,937.4 L1541.0,935.5 L1542.0,933.6 L1543.0,931.7 L1544.0,929.6 L1545.0,927.5 L1546.0,925.4 L1547.0,923.2 L1548.0,920.9 L1549.0,918.6 L1550.0,916.3 L1551.0,913.9 L1552.0,911.5 L1553.0,909.0 L1554.0,906.6 L1555.0,904.0 L1556.0,901.5 L1557.0,899.1 L1558.0,896.7 L1559.0,894.3 L1560.0,892.0 L1561.0,889.7 L1562.0,887.5 L1563.0,885.3 L1564.0,883.1 L1565.0,880.8 L1566.0,878.5 L1567.0,876.2 L1568.0,873.9 L1569.0,871.5 L1570.0,869.0 L1571.0,866.5 L1572.0,864.0 L1573.0,861.6 L1574.0,859.1 L1575.0,856.7 L1576.0,854.2 L1577.0,851.8 L1578.0,849.4 L1579.0,846.9 L1580.0,844.4 L1581.0,841.9 L1582.0,839.4 L1583.0,837.0 L1584.0,834.6 L1585.0,832.2 L1586.0,829.9 L1587.0,827.6 L1588.0,825.4 L1589.0,823.1 L1590.0,820.8 L1591.0,818.4 L1592.0,816.1 L1593.0,813.7 L1594.0,811.4 L1595.0,809.0 L1596.0,806.7 L1597.0,804.3 L1598.0,801.9 L1599.0,799.4 L1600.0,797.0 L1601.0,794.6 L1602.0,792.3 L1603.0,790.1 L1604.0,787.9 L1605.0,785.8 L1606.0,783.7 L1607.0,781.6 L1608.0,779.4 L1609.0,777.0 L1610.0,774.6 L1611.0,772.2 L1612.0,769.9 L1613.0,767.6 L1614.0,765.3 L1615.0,763.2 L1616.0,761.3 L1617.0,759.6 L1618.0,757.8 L1619.0,756.2 L1620.0,754.5 L1621.0,752.8 L1622.0,751.2 L1623.0,749.6 L1624.0,748.0 L1625.0,746.3 L1626.0,744.7 L1627.0,743.0 L1628.0,741.3 L1629.0,739.7 L1630.0,738.2 L1631.0,736.7 L1632.0,735.2 L1633.0,733.8 L1634.0,732.4 L1635.0,731.1 L1636.0,729.8 L1637.0,728.5 L1638.0,727.3 L1639.0,726.0 L1640.0,724.8 L1641.0,723.7 L1642.0,722.5 L1643.0,721.3 L1644.0,720.2 L1645.0,719.0 L1646.0,717.8 L1647.0,716.7 L1648.0,715.6 L1649.0,714.6 L1650.0,713.6 L1651.0,712.6 L1652.0,711.6 L1653.0,710.7 L1654.0,709.8 L1655.0,708.9 L1656.0,708.1 L1657.0,707.3 L1658.0,706.6 L1659.0,705.8 L1660.0,705.1 L1661.0,704.5 L1662.0,703.8 L1663.0,703.2 L1664.0,702.5 L1665.0,701.9 L1666.0,701.3 L1667.0,700.8 L1668.0,700.2 L1669.0,699.7 L1670.0,699.2 L1671.0,698.7 L1672.0,698.2 L1673.0,697.7 L1674.0,697.3 L1675.0,696.9 L1676.0,696.4 L1677.0,696.0 L1678.0,695.6 L1679.0,695.2 L1680.0,694.9 L1681.0,694.5 L1682.0,694.2 L1683.0,693.8 L1684.0,693.5 L1685.0,693.2 L1686.0,692.8 L1687.0,692.5 L1688.0,692.2 L1689.0,691.9 L1690.0,691.6 L1691.0,691.3 L1692.0,691.0 L1693.0,690.7 L1694.0,690.4 L1695.0,690.2 L1696.0,689.9 L1697.0,689.7 L1698.0,689.4 L1699.0,689.2 L1700.0,689.0 L1701.0,688.9 L1702.0,688.7 L1703.0,688.5 L1704.0,688.3 L1705.0,688.2 L1706.0,688.0 L1707.0,687.9 L1708.0,687.8 L1709.0,687.6 L1710.0,687.5 L1711.0,687.4 L1712.0,687.2 L1713.0,687.1 L1714.0,687.0 L1715.0,686.9 L1716.0,686.8 L1717.0,686.7 L1718.0,686.6 L1719.0,686.5 L1720.0,686.4 L1721.0,686.3 L1722.0,686.2 L1723.0,686.1 L1724.0,686.1 L1725.0,686.0 L1726.0,685.9 L1727.0,685.9 L1728.0,685.8 L1729.0,685.8 L1730.0,685.7 L1731.0,685.7 L1732.0,685.6 L1733.0,685.6 L1734.0,685.6 L1735.0,685.5 L1736.0,685.5 L1737.0,685.5 L1738.0,685.4 L1739.0,685.4 L1740.0,685.4 L1741.0,685.3 L1742.0,685.3 L1743.0,685.3 L1744.0,685.3 L1745.0,685.2 L1746.0,685.2 L1747.0,685.2 L1748.0,685.2 L1749.0,685.2 L1750.0,685.2 L1751.0,685.2 L1752.0,685.2 L1753.0,685.2 L1754.0,685.2 L1755.0,685.2 L1756.0,685.2 L1757.0,685.2 L1758.0,685.2 L1759.0,685.2 L1760.0,685.2 L1761.0,685.2 L1762.0,685.2 L1763.0,685.2 L1764.0,685.2 L1765.0,685.2 L1766.0,685.2" fill="none" stroke="#0080ff" stroke-width="2" stroke-linejoin="round" shape-rendering="crispEdges"/>
<path d="M1465.0,983.0 L1466.0,983.0 L1467.0,983.0 L1468.0,983.0 L1469.0,983.0 L1470.0,983.0 L1471.0,982.9 L1472.0,982.8 L1473.0,982.7 L1474.0,982.5 L1475.0,982.3 L1476.0,982.1 L1477.0,982.0 L1478.0,981.8 L1479.0,981.7 L1480.0,981.6 L1481.0,981.4 L1482.0,981.3 L1483.0,981.1 L1484.0,981.0 L1485.0,980.9 L1486.0,980.7 L1487.0,980.6 L1488.0,980.4 L1489.0,980.3 L1490.0,980.1 L1491.0,979.9 L1492.0,979.7 L1493.0,979.4 L1494.0,979.1 L1495.0,978.9 L1496.0,978.7 L1497.0,978.4 L1498.0,978.1 L1499.0,977.7 L1500.0,977.2 L1501.0,976.5 L1502.0,975.8 L1503.0,975.2 L1504.0,974.6 L1505.0,974.0 L1506.0,973.4 L1507.0,972.8 L1508.0,972.2 L1509.0,971.5 L1510.0,970.8 L1511.0,970.0 L1512.0,969.1 L1513.0,968.3 L1514.0,967.3 L1515.0,966.4 L1516.0,965.5 L1517.0,964.6 L1518.0,963.6 L1519.0,962.7 L1520.0,961.7 L1521.0,960.6 L1522.0,959.6 L1523.0,958.6 L1524.0,957.6 L1525.0,956.6 L1526.0,955.5 L1527.0,954.3 L1528.0,953.2 L1529.0,951.9 L1530.0,950.6 L1531.0,949.3 L1532.0,947.9 L1533.0,946.5 L1534.0,945.2 L1535.0,943.8 L1536.0,942.5 L1537.0,941.2 L1538.0,939.9 L1539.0,938.5 L1540.0,937.1 L1541.0,935.7 L1542.0,934.3 L1543.0,932.8 L1544.0,931.2 L1545.0,929.6 L1546.0,928.0 L1547.0,926.3 L1548.0,924.7 L1549.0,923.0 L1550.0,921.2 L1551.0,919.5 L1552.0,917.7 L1553.0,915.8 L1554.0,913.9 L1555.0,912.0 L1556.0,910.1 L1557.0,908.0 L1558.0,905.9 L1559.0,903.8 L1560.0,901.6 L1561.0,899.4 L1562.0,897.2 L1563.0,895.0 L1564.0,892.7 L1565.0,890.5 L1566.0,888.2 L1567.0,886.0 L1568.0,883.7 L1569.0,881.3 L1570.0,879.0 L1571.0,876.6 L1572.0,874.3 L1573.0,871.9 L1574.0,869.5 L1575.0,867.1 L1576.0,864.8 L1577.0,862.4 L1578.0,860.0 L1579.0,857.7 L1580.0,855.4 L1581.0,853.2 L1582.0,850.9 L1583.0,848.7 L1584.0,846.4 L1585.0,844.2 L1586.0,841.9 L1587.0,839.6 L1588.0,837.2 L1589.0,834.9 L1590.0,832.5 L1591.0,830.2 L1592.0,827.9 L1593.0,825.6 L1594.0,823.3 L1595.0,821.0 L1596.0,818.8 L1597.0,816.5 L1598.0,814.2 L1599.0,811.9 L1600.0,809.5 L1601.0,807.1 L1602.0,804.8 L1603.0,802.6 L1604.0,800.4 L1605.0,798.3 L1606.0,796.2 L1607.0,794.3 L1608.0,792.4 L1609.0,790.5 L1610.0,788.7 L1611.0,786.8 L1612.0,785.0 L1613.0,783.1 L1614.0,781.3 L1615.0,779.3 L1616.0,777.3 L1617.0,775.3 L1618.0,773.2 L1619.0,771.2 L1620.0,769.1 L1621.0,767.0 L1622.0,765.0 L1623.0,763.0 L1624.0,761.2 L1625.0,759.4 L1626.0,757.6 L1627.0,755.9 L1628.0,754.2 L1629.0,752.5 L1630.0,750.9 L1631.0,749.3 L1632.0,747.7 L1633.0,746.2 L1634.0,744.7 L1635.0,743.3 L1636.0,741.8 L1637.0,740.4 L1638.0,739.0 L1639.0,737.7 L1640.0,736.4 L1641.0,735.1 L1642.0,733.8 L1643.0,732.5 L1644.0,731.2 L1645.0,730.0 L1646.0,728.8 L1647.0,727.5 L1648.0,726.3 L1649.0,725.1 L1650.0,723.9 L1651.0,722.7 L1652.0,721.6 L1653.0,720.4 L1654.0,719.2 L1655.0,718.1 L1656.0,717.0 L1657.0,715.9 L1658.0,714.8 L1659.0,713.7 L1660.0,712.7 L1661.0,711.6 L1662.0,710.6 L1663.0,709.6 L1664.0,708.6 L1665.0,707.7 L1666.0,706.8 L1667.0,705.9 L1668.0,705.1 L1669.0,704.3 L1670.0,703.5 L1671.0,702.8 L1672.0,702.1 L1673.0,701.4 L1674.0,700.8 L1675.0,700.1 L1676.0,699.5 L1677.0,698.9 L1678.0,698.3 L1679.0,697.7 L1680.0,697.2 L1681.0,696.6 L1682.0,696.1 L1683.0,695.5 L1684.0,695.0 L1685.0,694.5 L1686.0,694.0 L1687.0,693.5 L1688.0,693.0 L1689.0,692.5 L1690.0,692.0 L1691.0,691.5 L1692.0,691.1 L1693.0,690.6 L1694.0,690.2 L1695.0,689.8 L1696.0,689.4 L1697.0,689.1 L1698.0,688.9 L1699.0,688.6 L1700.0,688.4 L1701.0,688.2 L1702.0,688.0 L1703.0,687.8 L1704.0,687.7 L1705.0,687.5 L1706.0,687.3 L1707.0,687.2 L1708.0,687.0 L1709.0,686.9 L1710.0,686.7 L1711.0,686.6 L1712.0,686.4 L1713.0,686.3 L1714.0,686.2 L1715.0,686.1 L1716.0,686.0 L1717.0,685.8 L1718.0,685.8 L1719.0,685.7 L1720.0,685.6 L1721.0,685.5 L1722.0,685.4 L1723.0,685.3 L1724.0,685.3 L1725.0,685.2 L1726.0,685.1 L1727.0,685.1 L1728.0,685.0 L1729.0,685.0 L1730.0,684.9 L1731.0,684.9 L1732.0,684.8 L1733.0,684.8 L1734.0,684.8 L1735.0,684.7 L1736.0,684.7 L1737.0,684.7 L1738.0,684.6 L1739.0,684.6 L1740.0,684.5 L1741.0,684.4 L1742.0,684.4 L1743.0,684.3 L1744.0,684.2 L1745.0,684.2 L1746.0,684.1 L1747.0,684.1 L1748.0,684.0 L1749.0,684.0 L1750.0,684.0 L1751.0,684.0 L1752.0,684.0 L1753.0,684.0 L1754.0,684.0 L1755.0,684.0 L1756.0,684.0 L1757.0,684.0 L1758.0,684.0 L1759.0,684.0 L1760.0,684.0 L1761.0,684.0 L1762.0,684.0 L1763.0,684.0 L1764.0,684.0 L1765.0,684.0 L1766.0,684.0 L1767.0,684.0 L1768.0,684.0 L1769.0,684.0 L1770.0,684.0 L1771.0,684.0 L1772.0,684.0 L1773.0,684.0 L1774.0,684.0 L1775.0,684.0 L1776.0,684.0 L1777.0,684.0 L1778.0,684.0 L1779.0,684.0 L1780.0,684.0 L1781.0,684.0 L1782.0,684.0 L1783.0,684.0 L1784.0,684.0 L1785.0,684.0 L1786.0,684.0 L1787.0,684.0 L1788.0,684.0 L1789.0,684.0 L1790.0,684.0 L1791.0,684.0 L1792.0,684.0 L1793.0,684.0 L1794.0,684.0 L1795.0,684.0 L1796.0,684.0 L1797.0,684.0 L1798.0,684.0 L1799.0,684.0 L1800.0,684.0 L1801.0,684.0 L1802.0,684.0 L1803.0,684.0 L1804.0,684.0 L1805.0,684.0 L1806.0,684.0 L1807.0,684.0 L1808.0,684.0 L1809.0,684.0 L1810.0,684.0 L1811.0,684.0 L1812.0,684.0 L1813.0,684.0 L1814.0,684.0 L1815.0,684.0 L1816.0,684.0 L1817.0,684.0 L1818.0,684.0" fill="none" stroke="#ff00ff" stroke-width="2" stroke-linejoin="round" shape-rendering="crispEdges"/>
<text class="t" transform="translate(0,694.70) scale(1,1.05)" x="1366.61 1380.85 1387.96" y="0">&#x2007;.0</text>
<path d="M805,0L613,0L613,1102Q450,985 240,894L240,1061Q420,1140 545,1260Q625,1340 670,1409L805,1409Z" transform="translate(1366.61,694.70) scale(0.012500,-0.013125)" fill="#000"/>
<text class="t" transform="translate(0,754.50) scale(1,1.05)" x="1366.61 1380.85 1387.96" y="0">0.8</text>
<text class="t" transform="translate(0,814.30) scale(1,1.05)" x="1366.61 1380.85 1387.96" y="0">0.6</text>
<text class="t" transform="translate(0,874.10) scale(1,1.05)" x="1366.61 1380.85 1387.96" y="0">0.4</text>
<text class="t" transform="translate(0,933.90) scale(1,1.05)" x="1366.61 1380.85 1387.96" y="0">0.2</text>
<text class="t" transform="translate(0,993.70) scale(1,1.05)" x="1366.61 1380.85 1387.96" y="0">0.0</text>
<text class="t" transform="translate(0,1048.80) scale(1,1.05)" x="1435.21 1449.44 1456.56" y="0">3.0</text>
<text class="t" transform="translate(0,1048.80) scale(1,1.05)" x="1500.21 1514.44 1521.56" y="0">3.5</text>
<text class="t" transform="translate(0,1048.80) scale(1,1.05)" x="1564.21 1578.44 1585.56" y="0">4.0</text>
<text class="t" transform="translate(0,1048.80) scale(1,1.05)" x="1629.21 1643.44 1650.56" y="0">4.5</text>
<text class="t" transform="translate(0,1048.80) scale(1,1.05)" x="1694.21 1708.44 1715.56" y="0">5.0</text>
<text class="t" transform="translate(0,1048.80) scale(1,1.05)" x="1758.21 1772.44 1779.56" y="0">5.5</text>
<text class="l" x="1637.0" y="1103.8" text-anchor="middle">d0</text>
<text class="l" transform="translate(1336,834.1) rotate(-90) scale(1,1.04)" x="0" y="0" text-anchor="middle">ECDF</text>
</g>
</svg>
</body></html>
